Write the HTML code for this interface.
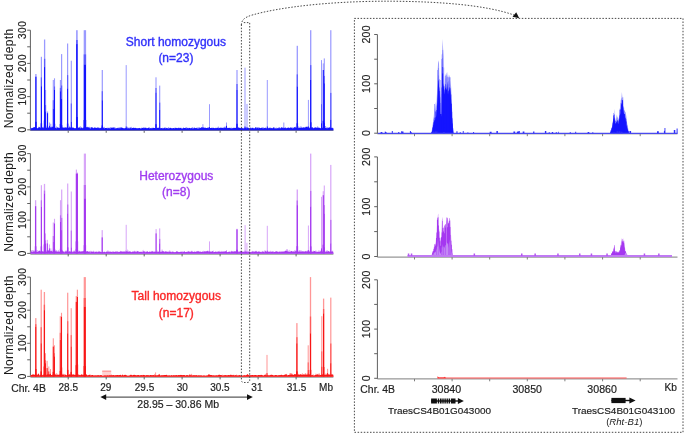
<!DOCTYPE html>
<html lang="en"><head><meta charset="utf-8"><title>Normalized depth</title>
<style>html,body{margin:0;padding:0;background:#fff}body{width:685px;height:434px;overflow:hidden}svg{display:block;will-change:transform}text{font-family:'Liberation Sans', sans-serif}</style>
</head><body>
<svg width="685" height="434" viewBox="0 0 685 434">
<rect width="685" height="434" fill="#fff"/>
<g stroke="#606060" stroke-width="1" fill="none">
<path d="M30.4 30.2 V130.4"/>
<path d="M27.2 129.8 H30.4"/>
<path d="M27.2 113.2 H30.4"/>
<path d="M27.2 96.6 H30.4"/>
<path d="M27.2 80.0 H30.4"/>
<path d="M27.2 63.4 H30.4"/>
<path d="M27.2 46.8 H30.4"/>
<path d="M27.2 30.2 H30.4"/>
<path d="M30.4 130.4 H333.4"/>
<path d="M68.2 130.4 V132.8"/>
<path d="M106.2 130.4 V132.8"/>
<path d="M144.2 130.4 V132.8"/>
<path d="M182.1 130.4 V132.8"/>
<path d="M220.1 130.4 V132.8"/>
<path d="M258.1 130.4 V132.8"/>
<path d="M296.1 130.4 V132.8"/>
</g>
<text transform="translate(25.5 129.5) rotate(-90)" text-anchor="middle" font-size="10" letter-spacing="0.5" fill="#222" stroke="#222" stroke-width="0.18">0</text>
<text transform="translate(25.5 96.3) rotate(-90)" text-anchor="middle" font-size="10" letter-spacing="0.5" fill="#222" stroke="#222" stroke-width="0.18">100</text>
<text transform="translate(25.5 63.1) rotate(-90)" text-anchor="middle" font-size="10" letter-spacing="0.5" fill="#222" stroke="#222" stroke-width="0.18">200</text>
<text transform="translate(25.5 29.9) rotate(-90)" text-anchor="middle" font-size="10" letter-spacing="0.5" fill="#222" stroke="#222" stroke-width="0.18">300</text>
<text transform="translate(12.6 78.4) rotate(-90)" text-anchor="middle" font-size="12" letter-spacing="0.36" fill="#161616">Normalized depth</text>
<g fill="#9a9aff">
<rect x="35.25" y="74.0" width="1.30" height="55.8"/>
<rect x="40.80" y="56.8" width="1.20" height="73.0"/>
<rect x="43.95" y="39.5" width="1.30" height="90.3"/>
<rect x="45.10" y="90.0" width="1.00" height="39.8"/>
<rect x="46.90" y="111.5" width="1.20" height="18.3"/>
<rect x="49.10" y="122.5" width="1.00" height="7.3"/>
<rect x="50.30" y="123.8" width="1.00" height="6.0"/>
<rect x="52.75" y="80.0" width="1.10" height="49.8"/>
<rect x="53.95" y="78.3" width="1.10" height="51.5"/>
<rect x="59.85" y="80.0" width="1.10" height="49.8"/>
<rect x="61.00" y="54.1" width="1.20" height="75.7"/>
<rect x="67.00" y="43.5" width="1.20" height="86.3"/>
<rect x="70.75" y="60.7" width="1.10" height="69.1"/>
<rect x="76.10" y="30.2" width="1.60" height="99.6"/>
<rect x="83.70" y="30.2" width="2.40" height="99.6"/>
<rect x="101.70" y="70.0" width="1.20" height="59.8"/>
<rect x="125.70" y="65.1" width="1.00" height="64.7"/>
<rect x="155.45" y="77.3" width="1.10" height="52.5"/>
<rect x="159.15" y="85.6" width="1.10" height="44.2"/>
<rect x="202.40" y="124.2" width="1.00" height="5.6"/>
<rect x="209.00" y="104.2" width="1.00" height="25.6"/>
<rect x="226.00" y="122.5" width="1.00" height="7.3"/>
<rect x="236.40" y="70.0" width="1.20" height="59.8"/>
<rect x="244.50" y="67.7" width="1.00" height="62.1"/>
<rect x="246.50" y="103.9" width="1.00" height="25.9"/>
<rect x="266.80" y="80.0" width="1.00" height="49.8"/>
<rect x="283.30" y="122.5" width="1.00" height="7.3"/>
<rect x="296.65" y="45.8" width="1.30" height="84.0"/>
<rect x="307.90" y="99.9" width="1.00" height="29.9"/>
<rect x="310.05" y="30.2" width="1.30" height="99.6"/>
<rect x="321.00" y="60.1" width="1.00" height="69.7"/>
<rect x="322.75" y="63.4" width="1.10" height="66.4"/>
<rect x="323.75" y="58.4" width="1.10" height="71.4"/>
<rect x="330.20" y="30.2" width="1.20" height="99.6"/>
</g>
<path fill="#9a9aff" d="M30.6 130.2 L30.6 127.3 L31.5 128.1 L32.4 128.7 L33.3 128.0 L34.2 127.9 L35.1 127.0 L36.0 126.4 L36.9 128.3 L37.8 128.1 L38.7 126.6 L39.6 127.0 L40.5 127.2 L41.4 127.2 L42.3 126.9 L43.2 126.8 L44.1 126.9 L45.0 128.2 L45.9 127.9 L46.8 125.3 L47.7 127.4 L48.6 126.8 L49.5 126.7 L50.4 128.0 L51.3 126.2 L52.2 126.9 L53.1 126.4 L54.0 126.6 L54.9 127.1 L55.8 127.8 L56.7 126.1 L57.6 127.8 L58.5 127.2 L59.4 128.2 L60.3 127.6 L61.2 128.2 L62.1 126.9 L63.0 127.0 L63.9 127.5 L64.8 126.8 L65.7 127.2 L66.6 128.4 L67.5 128.5 L68.4 128.6 L69.3 125.2 L70.2 128.0 L71.1 126.9 L72.0 126.5 L72.9 128.1 L73.8 128.1 L74.7 128.0 L75.6 128.5 L76.5 126.7 L77.4 127.1 L78.3 127.7 L79.2 127.2 L80.1 126.2 L81.0 126.4 L81.9 127.9 L82.8 127.7 L83.7 127.0 L84.6 125.9 L85.5 127.9 L86.4 127.5 L87.3 126.6 L88.2 127.6 L89.1 126.6 L90.0 127.5 L90.9 127.1 L91.8 127.0 L92.7 127.2 L93.6 128.1 L94.5 127.1 L95.4 127.1 L96.3 127.9 L97.2 127.0 L98.1 126.9 L99.0 127.4 L99.9 128.0 L100.8 128.3 L101.7 127.1 L102.6 127.7 L103.5 127.1 L104.4 126.8 L105.3 128.7 L106.2 127.8 L107.1 128.0 L108.0 127.3 L108.9 128.0 L109.8 127.6 L110.7 127.0 L111.6 127.6 L112.5 127.8 L113.4 126.9 L114.3 127.0 L115.2 127.2 L116.1 128.6 L117.0 128.1 L117.9 127.5 L118.8 127.6 L119.7 127.3 L120.6 127.0 L121.5 127.1 L122.4 127.9 L123.3 128.1 L124.2 128.5 L125.1 128.5 L126.0 127.5 L126.9 127.5 L127.8 126.4 L128.7 128.1 L129.6 127.4 L130.5 127.0 L131.4 126.8 L132.3 128.4 L133.2 127.1 L134.1 128.5 L135.0 127.8 L135.9 128.1 L136.8 128.3 L137.7 128.6 L138.6 128.2 L139.5 127.8 L140.4 128.8 L141.3 127.5 L142.2 128.0 L143.1 127.2 L144.0 127.2 L144.9 127.5 L145.8 127.2 L146.7 128.1 L147.6 128.2 L148.5 128.3 L149.4 127.1 L150.3 128.2 L151.2 127.8 L152.1 127.9 L153.0 127.4 L153.9 128.3 L154.8 127.9 L155.7 128.5 L156.6 128.2 L157.5 127.9 L158.4 127.5 L159.3 127.3 L160.2 127.7 L161.1 128.2 L162.0 128.3 L162.9 127.4 L163.8 128.3 L164.7 127.1 L165.6 127.5 L166.5 127.7 L167.4 128.5 L168.3 127.1 L169.2 127.6 L170.1 128.4 L171.0 127.7 L171.9 128.6 L172.8 128.3 L173.7 128.0 L174.6 127.8 L175.5 127.4 L176.4 127.7 L177.3 128.2 L178.2 127.6 L179.1 127.4 L180.0 128.1 L180.9 127.6 L181.8 128.0 L182.7 128.4 L183.6 127.1 L184.5 128.4 L185.4 127.6 L186.3 126.9 L187.2 127.6 L188.1 128.2 L189.0 127.4 L189.9 128.1 L190.8 128.3 L191.7 127.5 L192.6 126.9 L193.5 128.1 L194.4 127.0 L195.3 128.1 L196.2 128.5 L197.1 127.2 L198.0 127.8 L198.9 126.9 L199.8 127.3 L200.7 127.9 L201.6 127.3 L202.5 127.7 L203.4 127.1 L204.3 127.9 L205.2 126.9 L206.1 128.1 L207.0 128.4 L207.9 127.2 L208.8 127.1 L209.7 128.5 L210.6 128.1 L211.5 127.9 L212.4 127.4 L213.3 127.8 L214.2 128.2 L215.1 128.3 L216.0 127.3 L216.9 128.2 L217.8 126.8 L218.7 126.6 L219.6 128.0 L220.5 127.8 L221.4 127.3 L222.3 128.4 L223.2 127.3 L224.1 127.5 L225.0 125.9 L225.9 127.2 L226.8 128.3 L227.7 127.6 L228.6 127.8 L229.5 128.4 L230.4 127.8 L231.3 127.5 L232.2 127.9 L233.1 127.7 L234.0 127.8 L234.9 127.9 L235.8 127.4 L236.7 127.3 L237.6 127.5 L238.5 126.8 L239.4 128.1 L240.3 128.1 L241.2 128.3 L242.1 127.7 L243.0 127.7 L243.9 128.2 L244.8 127.0 L245.7 127.0 L246.6 128.1 L247.5 128.6 L248.4 128.1 L249.3 128.6 L250.2 126.8 L251.1 128.1 L252.0 127.5 L252.9 127.6 L253.8 128.0 L254.7 128.3 L255.6 127.5 L256.5 127.0 L257.4 127.2 L258.3 127.1 L259.2 127.5 L260.1 128.3 L261.0 127.8 L261.9 127.9 L262.8 127.1 L263.7 127.6 L264.6 128.1 L265.5 127.2 L266.4 128.1 L267.3 127.4 L268.2 127.6 L269.1 128.6 L270.0 126.7 L270.9 128.3 L271.8 127.8 L272.7 128.1 L273.6 127.3 L274.5 127.3 L275.4 128.1 L276.3 127.5 L277.2 128.0 L278.1 127.7 L279.0 127.1 L279.9 127.0 L280.8 128.2 L281.7 127.4 L282.6 128.2 L283.5 126.8 L284.4 128.0 L285.3 127.0 L286.2 127.7 L287.1 128.2 L288.0 127.6 L288.9 127.7 L289.8 128.0 L290.7 127.1 L291.6 127.8 L292.5 127.2 L293.4 127.6 L294.3 127.7 L295.2 126.4 L296.1 126.9 L297.0 126.9 L297.9 127.6 L298.8 126.1 L299.7 127.5 L300.6 126.3 L301.5 126.4 L302.4 128.0 L303.3 127.0 L304.2 127.4 L305.1 127.1 L306.0 126.6 L306.9 128.1 L307.8 126.1 L308.7 128.2 L309.6 126.9 L310.5 127.9 L311.4 127.8 L312.3 127.1 L313.2 127.6 L314.1 128.6 L315.0 126.9 L315.9 127.4 L316.8 127.4 L317.7 125.9 L318.6 127.3 L319.5 127.4 L320.4 128.0 L321.3 127.9 L322.2 128.6 L323.1 126.9 L324.0 128.1 L324.9 126.0 L325.8 126.0 L326.7 127.8 L327.6 127.0 L328.5 127.4 L329.4 128.0 L330.3 126.1 L331.2 127.2 L332.1 127.7 L333.0 127.6 L333.4 128.8 L333.4 130.2Z"/>
<g fill="#5c5cff">
<rect x="40.80" y="77.4" width="1.20" height="8.9"/>
<rect x="43.95" y="58.8" width="1.30" height="8.3"/>
<rect x="45.10" y="105.1" width="1.00" height="6.5"/>
<rect x="52.75" y="100.2" width="1.10" height="8.7"/>
<rect x="53.95" y="86.5" width="1.10" height="3.5"/>
<rect x="59.85" y="87.9" width="1.10" height="3.4"/>
<rect x="61.00" y="85.5" width="1.20" height="13.4"/>
<rect x="67.00" y="75.1" width="1.20" height="13.5"/>
<rect x="70.75" y="103.5" width="1.10" height="18.3"/>
<rect x="76.10" y="40.0" width="1.60" height="4.2"/>
<rect x="83.70" y="54.4" width="2.40" height="10.4"/>
<rect x="101.70" y="91.2" width="1.20" height="9.1"/>
<rect x="155.45" y="88.0" width="1.10" height="4.6"/>
<rect x="159.15" y="102.6" width="1.10" height="7.3"/>
<rect x="236.40" y="84.0" width="1.20" height="6.0"/>
<rect x="296.65" y="74.4" width="1.30" height="12.3"/>
<rect x="310.05" y="65.1" width="1.30" height="14.9"/>
<rect x="321.00" y="104.2" width="1.00" height="18.9"/>
<rect x="323.75" y="75.9" width="1.10" height="7.5"/>
<rect x="330.20" y="92.9" width="1.20" height="26.9"/>
</g>
<g fill="#1414ff">
<rect x="35.28" y="76.7" width="1.23" height="53.1"/>
<rect x="35.13" y="121.8" width="1.53" height="8.0"/>
<rect x="40.83" y="86.3" width="1.14" height="43.5"/>
<rect x="40.68" y="123.3" width="1.44" height="6.5"/>
<rect x="43.98" y="67.1" width="1.23" height="62.7"/>
<rect x="43.83" y="120.4" width="1.53" height="9.4"/>
<rect x="45.12" y="111.5" width="0.95" height="18.3"/>
<rect x="46.93" y="113.2" width="1.14" height="16.6"/>
<rect x="49.12" y="125.8" width="0.95" height="4.0"/>
<rect x="50.32" y="127.1" width="0.95" height="2.7"/>
<rect x="52.78" y="108.9" width="1.04" height="20.9"/>
<rect x="52.63" y="126.7" width="1.34" height="3.1"/>
<rect x="53.98" y="90.0" width="1.04" height="39.8"/>
<rect x="53.83" y="123.8" width="1.34" height="6.0"/>
<rect x="59.88" y="91.3" width="1.04" height="38.5"/>
<rect x="59.73" y="124.0" width="1.34" height="5.8"/>
<rect x="61.03" y="98.9" width="1.14" height="30.9"/>
<rect x="60.88" y="125.2" width="1.44" height="4.6"/>
<rect x="67.03" y="88.6" width="1.14" height="41.2"/>
<rect x="66.88" y="123.6" width="1.44" height="6.2"/>
<rect x="70.78" y="121.8" width="1.04" height="8.0"/>
<rect x="76.14" y="44.1" width="1.52" height="85.7"/>
<rect x="75.99" y="117.0" width="1.82" height="12.8"/>
<rect x="83.76" y="64.7" width="2.28" height="65.1"/>
<rect x="83.61" y="120.0" width="2.58" height="9.8"/>
<rect x="101.73" y="100.3" width="1.14" height="29.5"/>
<rect x="101.58" y="125.4" width="1.44" height="4.4"/>
<rect x="125.73" y="126.5" width="0.95" height="3.3"/>
<rect x="155.48" y="92.6" width="1.04" height="37.2"/>
<rect x="155.33" y="124.2" width="1.34" height="5.6"/>
<rect x="159.18" y="109.9" width="1.04" height="19.9"/>
<rect x="202.43" y="127.1" width="0.95" height="2.7"/>
<rect x="209.03" y="127.1" width="0.95" height="2.7"/>
<rect x="226.03" y="125.8" width="0.95" height="4.0"/>
<rect x="236.43" y="90.0" width="1.14" height="39.8"/>
<rect x="236.28" y="123.8" width="1.44" height="6.0"/>
<rect x="244.53" y="126.5" width="0.95" height="3.3"/>
<rect x="246.53" y="127.1" width="0.95" height="2.7"/>
<rect x="266.82" y="126.5" width="0.95" height="3.3"/>
<rect x="283.32" y="127.8" width="0.95" height="2.0"/>
<rect x="296.68" y="86.6" width="1.23" height="43.2"/>
<rect x="296.53" y="123.3" width="1.53" height="6.5"/>
<rect x="307.92" y="126.5" width="0.95" height="3.3"/>
<rect x="310.08" y="80.0" width="1.23" height="49.8"/>
<rect x="309.93" y="122.3" width="1.53" height="7.5"/>
<rect x="321.02" y="123.2" width="0.95" height="6.6"/>
<rect x="322.78" y="70.0" width="1.04" height="59.8"/>
<rect x="322.63" y="120.8" width="1.34" height="9.0"/>
<rect x="323.78" y="83.3" width="1.04" height="46.5"/>
<rect x="323.63" y="122.8" width="1.34" height="7.0"/>
<rect x="330.23" y="119.8" width="1.14" height="10.0"/>
</g>
<path fill="#1414ff" d="M30.6 130.2 L30.6 127.1 L31.5 128.5 L32.4 127.9 L33.3 127.5 L34.2 127.1 L35.1 127.5 L36.0 128.0 L36.9 128.0 L37.8 128.5 L38.7 127.5 L39.6 127.3 L40.5 128.3 L41.4 127.7 L42.3 127.7 L43.2 127.8 L44.1 128.4 L45.0 128.0 L45.9 128.0 L46.8 127.7 L47.7 127.9 L48.6 127.8 L49.5 128.2 L50.4 128.0 L51.3 127.7 L52.2 126.8 L53.1 127.4 L54.0 128.1 L54.9 128.1 L55.8 128.0 L56.7 128.4 L57.6 127.3 L58.5 128.1 L59.4 127.9 L60.3 128.3 L61.2 128.1 L62.1 127.5 L63.0 128.1 L63.9 127.8 L64.8 127.9 L65.7 127.4 L66.6 127.4 L67.5 128.1 L68.4 128.0 L69.3 127.3 L70.2 127.7 L71.1 127.3 L72.0 128.0 L72.9 127.4 L73.8 127.7 L74.7 128.4 L75.6 128.2 L76.5 128.0 L77.4 127.5 L78.3 127.9 L79.2 127.2 L80.1 128.5 L81.0 128.0 L81.9 127.6 L82.8 128.4 L83.7 127.8 L84.6 127.7 L85.5 127.8 L86.4 127.2 L87.3 127.2 L88.2 127.4 L89.1 127.5 L90.0 128.6 L90.9 128.5 L91.8 127.1 L92.7 127.9 L93.6 128.3 L94.5 127.8 L95.4 128.0 L96.3 128.0 L97.2 127.9 L98.1 128.3 L99.0 127.7 L99.9 128.6 L100.8 127.8 L101.7 127.8 L102.6 128.1 L103.5 128.1 L104.4 128.4 L105.3 127.9 L106.2 128.0 L107.1 128.2 L108.0 128.4 L108.9 127.9 L109.8 128.4 L110.7 128.5 L111.6 127.8 L112.5 127.8 L113.4 127.7 L114.3 128.2 L115.2 128.5 L116.1 128.5 L117.0 127.9 L117.9 128.2 L118.8 128.2 L119.7 128.2 L120.6 128.2 L121.5 127.8 L122.4 127.8 L123.3 128.2 L124.2 128.5 L125.1 128.0 L126.0 128.2 L126.9 128.1 L127.8 128.4 L128.7 128.2 L129.6 128.6 L130.5 127.9 L131.4 128.5 L132.3 127.9 L133.2 127.9 L134.1 127.7 L135.0 128.3 L135.9 127.8 L136.8 128.5 L137.7 128.2 L138.6 128.3 L139.5 127.9 L140.4 128.4 L141.3 128.4 L142.2 127.9 L143.1 128.0 L144.0 128.2 L144.9 127.9 L145.8 128.0 L146.7 128.3 L147.6 128.3 L148.5 127.5 L149.4 128.4 L150.3 128.2 L151.2 128.2 L152.1 128.5 L153.0 127.8 L153.9 127.9 L154.8 128.1 L155.7 128.4 L156.6 128.2 L157.5 127.8 L158.4 128.0 L159.3 127.7 L160.2 128.4 L161.1 127.9 L162.0 128.2 L162.9 128.6 L163.8 128.2 L164.7 128.1 L165.6 128.6 L166.5 128.0 L167.4 128.2 L168.3 128.5 L169.2 128.5 L170.1 127.7 L171.0 128.1 L171.9 128.5 L172.8 128.3 L173.7 128.1 L174.6 128.4 L175.5 128.1 L176.4 127.9 L177.3 128.3 L178.2 128.0 L179.1 128.3 L180.0 128.1 L180.9 127.9 L181.8 128.7 L182.7 128.4 L183.6 127.9 L184.5 128.0 L185.4 127.9 L186.3 128.4 L187.2 128.0 L188.1 128.5 L189.0 127.9 L189.9 127.9 L190.8 128.4 L191.7 128.1 L192.6 128.6 L193.5 128.5 L194.4 127.9 L195.3 128.2 L196.2 127.7 L197.1 128.6 L198.0 128.4 L198.9 128.6 L199.8 127.9 L200.7 127.9 L201.6 127.3 L202.5 127.9 L203.4 128.0 L204.3 127.7 L205.2 127.9 L206.1 127.9 L207.0 127.9 L207.9 127.7 L208.8 128.3 L209.7 127.9 L210.6 128.1 L211.5 127.8 L212.4 128.2 L213.3 127.7 L214.2 128.2 L215.1 127.9 L216.0 128.2 L216.9 127.9 L217.8 128.0 L218.7 128.3 L219.6 128.0 L220.5 127.8 L221.4 128.0 L222.3 127.8 L223.2 128.3 L224.1 127.8 L225.0 127.7 L225.9 128.0 L226.8 128.3 L227.7 128.1 L228.6 127.9 L229.5 127.8 L230.4 128.2 L231.3 128.4 L232.2 128.3 L233.1 128.2 L234.0 127.8 L234.9 128.1 L235.8 128.1 L236.7 127.2 L237.6 128.2 L238.5 127.8 L239.4 127.8 L240.3 128.2 L241.2 127.7 L242.1 128.1 L243.0 128.6 L243.9 128.5 L244.8 128.0 L245.7 128.0 L246.6 128.4 L247.5 128.1 L248.4 127.7 L249.3 128.5 L250.2 128.1 L251.1 128.4 L252.0 128.0 L252.9 128.0 L253.8 128.4 L254.7 128.5 L255.6 127.1 L256.5 128.6 L257.4 127.7 L258.3 128.6 L259.2 127.7 L260.1 128.1 L261.0 128.2 L261.9 127.4 L262.8 128.5 L263.7 128.3 L264.6 127.9 L265.5 128.1 L266.4 128.6 L267.3 127.9 L268.2 128.2 L269.1 128.3 L270.0 127.8 L270.9 128.4 L271.8 127.9 L272.7 128.6 L273.6 127.3 L274.5 128.4 L275.4 128.5 L276.3 128.4 L277.2 128.5 L278.1 128.1 L279.0 128.4 L279.9 127.9 L280.8 128.6 L281.7 126.9 L282.6 127.8 L283.5 128.6 L284.4 127.9 L285.3 127.8 L286.2 128.4 L287.1 127.8 L288.0 127.9 L288.9 127.4 L289.8 128.3 L290.7 127.5 L291.6 127.8 L292.5 128.5 L293.4 128.3 L294.3 127.3 L295.2 127.3 L296.1 128.1 L297.0 127.9 L297.9 128.2 L298.8 128.1 L299.7 127.9 L300.6 128.0 L301.5 127.8 L302.4 127.7 L303.3 127.5 L304.2 127.8 L305.1 127.6 L306.0 127.3 L306.9 126.5 L307.8 127.5 L308.7 127.7 L309.6 128.2 L310.5 127.9 L311.4 127.5 L312.3 127.3 L313.2 128.5 L314.1 127.7 L315.0 127.7 L315.9 127.5 L316.8 127.9 L317.7 127.8 L318.6 127.9 L319.5 128.1 L320.4 128.3 L321.3 128.4 L322.2 127.7 L323.1 128.0 L324.0 127.6 L324.9 127.9 L325.8 128.1 L326.7 128.3 L327.6 128.2 L328.5 128.0 L329.4 127.2 L330.3 127.9 L331.2 128.0 L332.1 128.2 L333.0 127.9 L333.4 128.7 L333.4 130.2Z"/>
<g stroke="#606060" stroke-width="1" fill="none">
<path d="M30.4 153.6 V254.0"/>
<path d="M27.2 253.4 H30.4"/>
<path d="M27.2 236.8 H30.4"/>
<path d="M27.2 220.1 H30.4"/>
<path d="M27.2 203.5 H30.4"/>
<path d="M27.2 186.9 H30.4"/>
<path d="M27.2 170.2 H30.4"/>
<path d="M27.2 153.6 H30.4"/>
<path d="M30.4 254.0 H333.4"/>
<path d="M68.2 254.0 V256.4"/>
<path d="M106.2 254.0 V256.4"/>
<path d="M144.2 254.0 V256.4"/>
<path d="M182.1 254.0 V256.4"/>
<path d="M220.1 254.0 V256.4"/>
<path d="M258.1 254.0 V256.4"/>
<path d="M296.1 254.0 V256.4"/>
</g>
<text transform="translate(25.5 253.1) rotate(-90)" text-anchor="middle" font-size="10" letter-spacing="0.5" fill="#222" stroke="#222" stroke-width="0.18">0</text>
<text transform="translate(25.5 219.8) rotate(-90)" text-anchor="middle" font-size="10" letter-spacing="0.5" fill="#222" stroke="#222" stroke-width="0.18">100</text>
<text transform="translate(25.5 186.6) rotate(-90)" text-anchor="middle" font-size="10" letter-spacing="0.5" fill="#222" stroke="#222" stroke-width="0.18">200</text>
<text transform="translate(25.5 153.3) rotate(-90)" text-anchor="middle" font-size="10" letter-spacing="0.5" fill="#222" stroke="#222" stroke-width="0.18">300</text>
<text transform="translate(12.6 201.9) rotate(-90)" text-anchor="middle" font-size="12" letter-spacing="0.36" fill="#161616">Normalized depth</text>
<g fill="#d8a6f8">
<rect x="34.95" y="200.2" width="1.30" height="53.2"/>
<rect x="40.80" y="185.2" width="1.20" height="68.2"/>
<rect x="43.85" y="183.9" width="1.30" height="69.5"/>
<rect x="45.00" y="233.4" width="1.00" height="20.0"/>
<rect x="46.75" y="239.8" width="1.10" height="13.6"/>
<rect x="48.90" y="244.4" width="1.00" height="9.0"/>
<rect x="50.30" y="248.4" width="1.00" height="5.0"/>
<rect x="52.75" y="222.5" width="1.10" height="30.9"/>
<rect x="53.95" y="218.8" width="1.10" height="34.6"/>
<rect x="59.95" y="200.2" width="1.10" height="53.2"/>
<rect x="61.10" y="189.5" width="1.20" height="63.9"/>
<rect x="67.10" y="183.5" width="1.20" height="69.9"/>
<rect x="70.75" y="191.5" width="1.10" height="61.9"/>
<rect x="75.80" y="169.6" width="1.20" height="83.8"/>
<rect x="76.80" y="172.6" width="1.20" height="80.8"/>
<rect x="83.80" y="153.6" width="2.20" height="99.8"/>
<rect x="101.60" y="230.1" width="1.20" height="23.3"/>
<rect x="125.70" y="224.8" width="1.00" height="28.6"/>
<rect x="155.55" y="229.1" width="1.10" height="24.3"/>
<rect x="159.15" y="228.4" width="1.10" height="25.0"/>
<rect x="209.00" y="241.4" width="1.00" height="12.0"/>
<rect x="226.00" y="250.1" width="1.00" height="3.3"/>
<rect x="236.35" y="228.8" width="1.30" height="24.6"/>
<rect x="244.60" y="225.1" width="1.00" height="28.3"/>
<rect x="246.40" y="242.8" width="1.00" height="10.6"/>
<rect x="266.80" y="225.8" width="1.00" height="27.6"/>
<rect x="296.60" y="189.5" width="1.40" height="63.9"/>
<rect x="307.90" y="225.5" width="1.00" height="27.9"/>
<rect x="310.05" y="153.6" width="1.30" height="99.8"/>
<rect x="321.00" y="196.8" width="1.00" height="56.6"/>
<rect x="322.70" y="191.2" width="1.20" height="62.2"/>
<rect x="323.75" y="185.5" width="1.10" height="67.9"/>
<rect x="330.20" y="164.9" width="1.20" height="88.5"/>
</g>
<path fill="#d8a6f8" d="M30.6 253.8 L30.6 251.6 L31.5 250.0 L32.4 250.0 L33.3 250.5 L34.2 249.8 L35.1 252.2 L36.0 250.4 L36.9 250.2 L37.8 250.2 L38.7 251.1 L39.6 250.7 L40.5 251.0 L41.4 250.4 L42.3 251.2 L43.2 251.3 L44.1 251.8 L45.0 249.6 L45.9 250.7 L46.8 250.3 L47.7 250.1 L48.6 250.0 L49.5 250.8 L50.4 250.0 L51.3 251.2 L52.2 251.0 L53.1 250.0 L54.0 250.7 L54.9 250.0 L55.8 250.6 L56.7 250.1 L57.6 251.2 L58.5 249.8 L59.4 251.3 L60.3 251.3 L61.2 251.2 L62.1 250.9 L63.0 251.2 L63.9 251.9 L64.8 251.0 L65.7 250.6 L66.6 250.5 L67.5 250.7 L68.4 251.5 L69.3 251.0 L70.2 250.9 L71.1 251.3 L72.0 251.9 L72.9 251.0 L73.8 250.6 L74.7 250.8 L75.6 248.8 L76.5 249.9 L77.4 248.5 L78.3 250.7 L79.2 250.5 L80.1 251.2 L81.0 251.4 L81.9 251.2 L82.8 250.9 L83.7 250.4 L84.6 251.8 L85.5 250.9 L86.4 251.1 L87.3 251.6 L88.2 251.9 L89.1 251.1 L90.0 251.1 L90.9 250.8 L91.8 251.0 L92.7 251.6 L93.6 250.4 L94.5 251.4 L95.4 252.1 L96.3 250.8 L97.2 251.9 L98.1 250.7 L99.0 251.1 L99.9 251.5 L100.8 251.9 L101.7 252.0 L102.6 251.1 L103.5 251.7 L104.4 252.2 L105.3 252.1 L106.2 251.4 L107.1 250.9 L108.0 250.0 L108.9 251.5 L109.8 250.9 L110.7 251.7 L111.6 251.8 L112.5 251.1 L113.4 251.9 L114.3 252.0 L115.2 251.8 L116.1 251.0 L117.0 251.3 L117.9 250.9 L118.8 252.0 L119.7 252.3 L120.6 250.7 L121.5 250.9 L122.4 251.4 L123.3 251.5 L124.2 251.4 L125.1 250.9 L126.0 249.8 L126.9 251.5 L127.8 249.1 L128.7 251.5 L129.6 251.3 L130.5 252.1 L131.4 252.0 L132.3 251.1 L133.2 251.8 L134.1 250.8 L135.0 250.7 L135.9 251.6 L136.8 250.8 L137.7 251.1 L138.6 250.9 L139.5 251.8 L140.4 251.6 L141.3 251.5 L142.2 251.6 L143.1 249.5 L144.0 251.8 L144.9 251.3 L145.8 251.4 L146.7 252.1 L147.6 251.1 L148.5 251.9 L149.4 251.9 L150.3 251.6 L151.2 251.0 L152.1 250.8 L153.0 251.5 L153.9 251.6 L154.8 251.7 L155.7 252.0 L156.6 250.6 L157.5 250.6 L158.4 251.9 L159.3 252.2 L160.2 251.6 L161.1 252.2 L162.0 248.8 L162.9 251.0 L163.8 251.1 L164.7 251.5 L165.6 251.0 L166.5 251.6 L167.4 251.8 L168.3 251.4 L169.2 250.5 L170.1 250.5 L171.0 252.0 L171.9 251.4 L172.8 251.5 L173.7 251.8 L174.6 251.9 L175.5 252.1 L176.4 251.2 L177.3 251.4 L178.2 251.8 L179.1 252.1 L180.0 252.1 L180.9 251.5 L181.8 251.2 L182.7 251.3 L183.6 251.9 L184.5 251.1 L185.4 251.9 L186.3 252.0 L187.2 251.8 L188.1 250.8 L189.0 252.1 L189.9 252.3 L190.8 251.7 L191.7 250.5 L192.6 251.1 L193.5 252.0 L194.4 250.8 L195.3 251.8 L196.2 250.9 L197.1 251.2 L198.0 250.7 L198.9 251.2 L199.8 251.4 L200.7 251.6 L201.6 252.0 L202.5 251.2 L203.4 250.7 L204.3 251.1 L205.2 251.6 L206.1 251.0 L207.0 251.8 L207.9 251.7 L208.8 250.6 L209.7 251.3 L210.6 251.8 L211.5 252.1 L212.4 251.5 L213.3 250.3 L214.2 251.9 L215.1 252.0 L216.0 251.7 L216.9 251.7 L217.8 250.9 L218.7 251.1 L219.6 250.8 L220.5 251.4 L221.4 250.7 L222.3 251.5 L223.2 251.4 L224.1 251.5 L225.0 251.4 L225.9 251.5 L226.8 252.0 L227.7 252.2 L228.6 251.5 L229.5 252.0 L230.4 251.6 L231.3 250.4 L232.2 251.4 L233.1 251.3 L234.0 250.7 L234.9 251.8 L235.8 251.9 L236.7 251.8 L237.6 252.0 L238.5 251.1 L239.4 251.6 L240.3 251.0 L241.2 250.9 L242.1 251.7 L243.0 251.3 L243.9 251.6 L244.8 251.6 L245.7 252.3 L246.6 251.2 L247.5 251.2 L248.4 252.1 L249.3 249.0 L250.2 251.8 L251.1 252.1 L252.0 250.8 L252.9 251.1 L253.8 251.1 L254.7 251.6 L255.6 250.8 L256.5 250.7 L257.4 251.5 L258.3 252.1 L259.2 250.7 L260.1 252.0 L261.0 252.3 L261.9 251.5 L262.8 250.8 L263.7 251.7 L264.6 250.2 L265.5 250.5 L266.4 251.6 L267.3 251.8 L268.2 250.9 L269.1 251.7 L270.0 251.0 L270.9 250.8 L271.8 251.8 L272.7 251.7 L273.6 250.9 L274.5 252.0 L275.4 250.9 L276.3 251.1 L277.2 251.4 L278.1 251.8 L279.0 251.2 L279.9 251.9 L280.8 251.1 L281.7 250.9 L282.6 251.9 L283.5 252.3 L284.4 251.1 L285.3 250.8 L286.2 249.6 L287.1 249.1 L288.0 249.7 L288.9 251.7 L289.8 249.5 L290.7 252.0 L291.6 250.7 L292.5 251.4 L293.4 251.5 L294.3 250.6 L295.2 249.8 L296.1 251.6 L297.0 250.5 L297.9 251.5 L298.8 250.5 L299.7 250.0 L300.6 250.4 L301.5 250.4 L302.4 251.2 L303.3 252.2 L304.2 251.0 L305.1 251.1 L306.0 250.8 L306.9 251.1 L307.8 250.3 L308.7 250.1 L309.6 251.1 L310.5 250.1 L311.4 250.9 L312.3 251.2 L313.2 250.5 L314.1 251.1 L315.0 251.6 L315.9 249.9 L316.8 251.2 L317.7 251.4 L318.6 250.3 L319.5 250.8 L320.4 250.4 L321.3 250.9 L322.2 250.6 L323.1 251.8 L324.0 251.0 L324.9 251.4 L325.8 250.7 L326.7 250.5 L327.6 250.2 L328.5 251.5 L329.4 251.2 L330.3 251.5 L331.2 251.2 L332.1 251.6 L333.0 250.1 L333.4 252.4 L333.4 253.8Z"/>
<g fill="#bc6cf3">
<rect x="40.80" y="200.3" width="1.20" height="6.5"/>
<rect x="43.85" y="190.6" width="1.30" height="2.9"/>
<rect x="45.00" y="240.4" width="1.00" height="3.0"/>
<rect x="52.75" y="236.0" width="1.10" height="5.8"/>
<rect x="59.95" y="215.3" width="1.10" height="6.5"/>
<rect x="61.10" y="217.9" width="1.20" height="12.2"/>
<rect x="67.10" y="204.5" width="1.20" height="9.0"/>
<rect x="70.75" y="230.6" width="1.10" height="16.8"/>
<rect x="83.80" y="185.0" width="2.20" height="13.5"/>
<rect x="159.15" y="238.9" width="1.10" height="4.5"/>
<rect x="296.60" y="200.5" width="1.40" height="4.7"/>
<rect x="310.05" y="190.9" width="1.30" height="16.0"/>
<rect x="323.75" y="205.1" width="1.10" height="8.4"/>
<rect x="330.20" y="219.9" width="1.20" height="23.6"/>
</g>
<g fill="#a538f0">
<rect x="34.98" y="206.2" width="1.23" height="47.2"/>
<rect x="34.83" y="246.3" width="1.53" height="7.1"/>
<rect x="40.83" y="206.8" width="1.14" height="46.6"/>
<rect x="40.68" y="246.4" width="1.44" height="7.0"/>
<rect x="43.88" y="193.5" width="1.23" height="59.9"/>
<rect x="43.73" y="244.4" width="1.53" height="9.0"/>
<rect x="45.02" y="243.4" width="0.95" height="10.0"/>
<rect x="46.78" y="243.4" width="1.04" height="10.0"/>
<rect x="48.92" y="248.4" width="0.95" height="5.0"/>
<rect x="50.32" y="251.4" width="0.95" height="2.0"/>
<rect x="52.78" y="241.8" width="1.04" height="11.6"/>
<rect x="53.98" y="223.5" width="1.04" height="29.9"/>
<rect x="53.83" y="248.9" width="1.34" height="4.5"/>
<rect x="59.98" y="221.8" width="1.04" height="31.6"/>
<rect x="59.83" y="248.7" width="1.34" height="4.7"/>
<rect x="61.13" y="230.1" width="1.14" height="23.3"/>
<rect x="60.98" y="249.9" width="1.44" height="3.5"/>
<rect x="67.13" y="213.5" width="1.14" height="39.9"/>
<rect x="66.98" y="247.4" width="1.44" height="6.0"/>
<rect x="70.78" y="247.4" width="1.04" height="6.0"/>
<rect x="75.83" y="173.6" width="1.14" height="79.8"/>
<rect x="75.68" y="241.4" width="1.44" height="12.0"/>
<rect x="76.83" y="173.6" width="1.14" height="79.8"/>
<rect x="76.68" y="241.4" width="1.44" height="12.0"/>
<rect x="83.86" y="198.5" width="2.09" height="54.9"/>
<rect x="83.70" y="245.2" width="2.39" height="8.2"/>
<rect x="101.63" y="237.4" width="1.14" height="16.0"/>
<rect x="125.73" y="251.4" width="0.95" height="2.0"/>
<rect x="155.58" y="233.4" width="1.04" height="20.0"/>
<rect x="159.18" y="243.4" width="1.04" height="10.0"/>
<rect x="209.03" y="251.4" width="0.95" height="2.0"/>
<rect x="226.03" y="251.7" width="0.95" height="1.7"/>
<rect x="236.38" y="229.4" width="1.23" height="24.0"/>
<rect x="236.23" y="249.8" width="1.53" height="3.6"/>
<rect x="244.62" y="250.7" width="0.95" height="2.7"/>
<rect x="246.43" y="251.4" width="0.95" height="2.0"/>
<rect x="266.82" y="250.7" width="0.95" height="2.7"/>
<rect x="296.63" y="205.2" width="1.33" height="48.2"/>
<rect x="296.49" y="246.2" width="1.63" height="7.2"/>
<rect x="307.92" y="250.1" width="0.95" height="3.3"/>
<rect x="310.08" y="206.8" width="1.23" height="46.6"/>
<rect x="309.93" y="246.4" width="1.53" height="7.0"/>
<rect x="321.02" y="248.4" width="0.95" height="5.0"/>
<rect x="322.73" y="195.2" width="1.14" height="58.2"/>
<rect x="322.58" y="244.7" width="1.44" height="8.7"/>
<rect x="323.78" y="213.5" width="1.04" height="39.9"/>
<rect x="323.63" y="247.4" width="1.34" height="6.0"/>
<rect x="330.23" y="243.4" width="1.14" height="10.0"/>
</g>
<path fill="#a538f0" d="M30.6 253.8 L30.6 251.4 L31.5 251.5 L32.4 252.2 L33.3 251.5 L34.2 251.6 L35.1 251.4 L36.0 251.8 L36.9 251.9 L37.8 252.1 L38.7 251.3 L39.6 250.6 L40.5 251.8 L41.4 251.7 L42.3 251.4 L43.2 251.6 L44.1 252.0 L45.0 251.7 L45.9 251.6 L46.8 251.8 L47.7 250.5 L48.6 250.8 L49.5 251.3 L50.4 251.4 L51.3 250.5 L52.2 252.1 L53.1 251.3 L54.0 251.0 L54.9 251.6 L55.8 251.3 L56.7 251.6 L57.6 252.0 L58.5 251.6 L59.4 251.9 L60.3 251.8 L61.2 251.2 L62.1 251.4 L63.0 251.0 L63.9 251.9 L64.8 252.4 L65.7 251.2 L66.6 251.6 L67.5 251.7 L68.4 252.2 L69.3 251.6 L70.2 251.7 L71.1 251.9 L72.0 251.6 L72.9 252.4 L73.8 251.6 L74.7 251.5 L75.6 252.1 L76.5 251.1 L77.4 251.6 L78.3 252.0 L79.2 251.6 L80.1 251.3 L81.0 252.3 L81.9 250.9 L82.8 251.7 L83.7 251.1 L84.6 251.7 L85.5 251.9 L86.4 251.7 L87.3 251.0 L88.2 251.7 L89.1 251.7 L90.0 252.4 L90.9 252.2 L91.8 251.8 L92.7 251.9 L93.6 251.7 L94.5 252.5 L95.4 251.8 L96.3 252.0 L97.2 252.2 L98.1 252.0 L99.0 252.0 L99.9 251.6 L100.8 251.9 L101.7 252.3 L102.6 252.1 L103.5 252.3 L104.4 251.5 L105.3 252.4 L106.2 251.7 L107.1 252.3 L108.0 251.6 L108.9 252.2 L109.8 251.9 L110.7 251.8 L111.6 252.1 L112.5 252.3 L113.4 251.6 L114.3 252.1 L115.2 251.6 L116.1 252.3 L117.0 251.8 L117.9 252.3 L118.8 252.0 L119.7 251.7 L120.6 251.6 L121.5 251.8 L122.4 251.7 L123.3 251.8 L124.2 251.5 L125.1 252.2 L126.0 251.5 L126.9 251.7 L127.8 251.6 L128.7 252.1 L129.6 251.5 L130.5 251.6 L131.4 252.2 L132.3 252.1 L133.2 251.8 L134.1 251.7 L135.0 251.6 L135.9 252.3 L136.8 252.0 L137.7 251.1 L138.6 252.3 L139.5 251.9 L140.4 252.1 L141.3 251.9 L142.2 252.2 L143.1 251.9 L144.0 250.7 L144.9 252.2 L145.8 252.2 L146.7 251.6 L147.6 251.4 L148.5 252.3 L149.4 251.6 L150.3 252.0 L151.2 252.1 L152.1 251.6 L153.0 251.5 L153.9 252.3 L154.8 251.5 L155.7 251.8 L156.6 251.8 L157.5 252.2 L158.4 251.6 L159.3 251.9 L160.2 251.8 L161.1 252.0 L162.0 251.6 L162.9 251.3 L163.8 251.8 L164.7 252.2 L165.6 251.5 L166.5 251.7 L167.4 251.8 L168.3 252.2 L169.2 251.8 L170.1 252.0 L171.0 251.8 L171.9 252.4 L172.8 251.6 L173.7 252.2 L174.6 252.2 L175.5 252.2 L176.4 251.6 L177.3 251.5 L178.2 251.9 L179.1 252.3 L180.0 251.8 L180.9 252.1 L181.8 251.9 L182.7 252.3 L183.6 251.7 L184.5 251.6 L185.4 252.3 L186.3 251.7 L187.2 252.3 L188.1 251.5 L189.0 251.6 L189.9 251.8 L190.8 251.7 L191.7 251.6 L192.6 251.9 L193.5 252.1 L194.4 251.9 L195.3 251.9 L196.2 252.1 L197.1 251.6 L198.0 251.6 L198.9 251.5 L199.8 251.9 L200.7 251.7 L201.6 252.1 L202.5 251.7 L203.4 252.2 L204.3 251.6 L205.2 251.7 L206.1 251.3 L207.0 251.5 L207.9 250.6 L208.8 252.2 L209.7 252.2 L210.6 251.6 L211.5 251.8 L212.4 251.0 L213.3 252.3 L214.2 251.9 L215.1 251.8 L216.0 251.4 L216.9 252.2 L217.8 252.0 L218.7 251.8 L219.6 252.1 L220.5 252.1 L221.4 252.0 L222.3 251.8 L223.2 251.8 L224.1 251.6 L225.0 251.8 L225.9 251.0 L226.8 251.9 L227.7 252.2 L228.6 251.9 L229.5 251.6 L230.4 252.4 L231.3 251.6 L232.2 251.6 L233.1 251.7 L234.0 252.0 L234.9 250.9 L235.8 251.6 L236.7 251.7 L237.6 251.7 L238.5 252.2 L239.4 252.3 L240.3 250.8 L241.2 252.3 L242.1 251.6 L243.0 252.1 L243.9 252.0 L244.8 252.3 L245.7 251.8 L246.6 252.0 L247.5 252.4 L248.4 251.8 L249.3 251.8 L250.2 252.3 L251.1 252.2 L252.0 252.1 L252.9 251.6 L253.8 252.3 L254.7 251.7 L255.6 251.5 L256.5 251.5 L257.4 252.3 L258.3 251.6 L259.2 251.7 L260.1 252.3 L261.0 251.6 L261.9 252.4 L262.8 251.6 L263.7 251.9 L264.6 252.4 L265.5 251.1 L266.4 251.7 L267.3 252.3 L268.2 251.9 L269.1 252.0 L270.0 251.7 L270.9 252.3 L271.8 251.7 L272.7 251.6 L273.6 252.3 L274.5 251.9 L275.4 252.0 L276.3 251.5 L277.2 251.5 L278.1 252.3 L279.0 252.1 L279.9 251.5 L280.8 252.2 L281.7 252.1 L282.6 251.4 L283.5 251.6 L284.4 251.8 L285.3 251.1 L286.2 251.1 L287.1 251.2 L288.0 251.4 L288.9 251.9 L289.8 251.9 L290.7 251.6 L291.6 250.9 L292.5 251.8 L293.4 251.6 L294.3 251.9 L295.2 251.3 L296.1 251.3 L297.0 251.6 L297.9 252.3 L298.8 251.8 L299.7 251.5 L300.6 251.8 L301.5 251.8 L302.4 251.6 L303.3 251.3 L304.2 252.1 L305.1 251.8 L306.0 251.1 L306.9 252.2 L307.8 251.1 L308.7 251.6 L309.6 251.8 L310.5 251.9 L311.4 251.8 L312.3 252.1 L313.2 251.7 L314.1 251.2 L315.0 251.1 L315.9 252.2 L316.8 252.1 L317.7 252.0 L318.6 252.0 L319.5 252.0 L320.4 251.8 L321.3 250.2 L322.2 251.6 L323.1 252.0 L324.0 252.3 L324.9 252.2 L325.8 252.1 L326.7 251.6 L327.6 251.8 L328.5 251.0 L329.4 252.0 L330.3 251.6 L331.2 252.1 L332.1 251.1 L333.0 252.2 L333.4 252.5 L333.4 253.8Z"/>
<g stroke="#606060" stroke-width="1" fill="none">
<path d="M30.4 277.1 V377.0"/>
<path d="M27.2 376.4 H30.4"/>
<path d="M27.2 359.8 H30.4"/>
<path d="M27.2 343.3 H30.4"/>
<path d="M27.2 326.8 H30.4"/>
<path d="M27.2 310.2 H30.4"/>
<path d="M27.2 293.7 H30.4"/>
<path d="M27.2 277.1 H30.4"/>
<path d="M30.4 377.0 H333.4"/>
<path d="M68.2 377.0 V379.4"/>
<path d="M106.2 377.0 V379.4"/>
<path d="M144.2 377.0 V379.4"/>
<path d="M182.1 377.0 V379.4"/>
<path d="M220.1 377.0 V379.4"/>
<path d="M258.1 377.0 V379.4"/>
<path d="M296.1 377.0 V379.4"/>
</g>
<text transform="translate(25.5 376.1) rotate(-90)" text-anchor="middle" font-size="10" letter-spacing="0.5" fill="#222" stroke="#222" stroke-width="0.18">0</text>
<text transform="translate(25.5 343.0) rotate(-90)" text-anchor="middle" font-size="10" letter-spacing="0.5" fill="#222" stroke="#222" stroke-width="0.18">100</text>
<text transform="translate(25.5 309.9) rotate(-90)" text-anchor="middle" font-size="10" letter-spacing="0.5" fill="#222" stroke="#222" stroke-width="0.18">200</text>
<text transform="translate(25.5 276.8) rotate(-90)" text-anchor="middle" font-size="10" letter-spacing="0.5" fill="#222" stroke="#222" stroke-width="0.18">300</text>
<text transform="translate(12.6 325.1) rotate(-90)" text-anchor="middle" font-size="12" letter-spacing="0.36" fill="#161616">Normalized depth</text>
<g fill="#ff9696">
<rect x="35.15" y="318.1" width="1.30" height="58.3"/>
<rect x="40.60" y="289.7" width="1.20" height="86.7"/>
<rect x="43.75" y="292.0" width="1.30" height="84.4"/>
<rect x="45.00" y="353.2" width="1.00" height="23.2"/>
<rect x="46.55" y="360.8" width="1.10" height="15.6"/>
<rect x="48.30" y="366.5" width="1.00" height="9.9"/>
<rect x="50.00" y="369.1" width="1.00" height="7.3"/>
<rect x="52.75" y="338.3" width="1.10" height="38.1"/>
<rect x="54.00" y="345.3" width="1.00" height="31.1"/>
<rect x="59.75" y="316.2" width="1.10" height="60.2"/>
<rect x="60.95" y="312.8" width="1.10" height="63.6"/>
<rect x="67.10" y="292.7" width="1.20" height="83.7"/>
<rect x="70.65" y="308.2" width="1.10" height="68.2"/>
<rect x="75.70" y="296.0" width="1.20" height="80.4"/>
<rect x="76.80" y="289.7" width="1.20" height="86.7"/>
<rect x="83.70" y="277.1" width="2.20" height="99.3"/>
<rect x="155.10" y="372.4" width="1.00" height="4.0"/>
<rect x="266.50" y="354.9" width="1.00" height="21.5"/>
<rect x="296.25" y="323.1" width="1.30" height="53.3"/>
<rect x="307.70" y="345.3" width="1.00" height="31.1"/>
<rect x="309.85" y="277.1" width="1.30" height="99.3"/>
<rect x="321.30" y="316.2" width="1.00" height="60.2"/>
<rect x="322.95" y="298.6" width="1.30" height="77.8"/>
<rect x="327.10" y="368.8" width="1.00" height="7.6"/>
<rect x="330.20" y="297.6" width="1.20" height="78.8"/>
</g>
<path fill="#ff9696" d="M30.6 376.8 L30.6 375.0 L31.5 374.9 L32.4 373.8 L33.3 374.6 L34.2 374.5 L35.1 375.0 L36.0 373.8 L36.9 373.5 L37.8 374.7 L38.7 374.6 L39.6 375.5 L40.5 374.7 L41.4 373.8 L42.3 375.4 L43.2 373.8 L44.1 374.3 L45.0 375.3 L45.9 374.4 L46.8 374.2 L47.7 375.4 L48.6 374.1 L49.5 375.4 L50.4 374.2 L51.3 375.5 L52.2 374.6 L53.1 373.9 L54.0 375.5 L54.9 374.6 L55.8 373.5 L56.7 373.3 L57.6 373.9 L58.5 375.3 L59.4 374.2 L60.3 374.0 L61.2 375.0 L62.1 374.6 L63.0 373.5 L63.9 374.2 L64.8 374.1 L65.7 375.0 L66.6 375.2 L67.5 374.3 L68.4 375.1 L69.3 374.2 L70.2 373.6 L71.1 374.3 L72.0 374.2 L72.9 374.5 L73.8 374.0 L74.7 374.7 L75.6 375.5 L76.5 375.0 L77.4 374.2 L78.3 374.1 L79.2 374.6 L80.1 375.5 L81.0 374.2 L81.9 373.9 L82.8 374.8 L83.7 374.6 L84.6 373.6 L85.5 374.6 L86.4 374.6 L87.3 375.5 L88.2 375.6 L89.1 374.4 L90.0 374.6 L90.9 374.8 L91.8 375.3 L92.7 375.3 L93.6 375.7 L94.5 375.2 L95.4 375.0 L96.3 375.3 L97.2 375.0 L98.1 375.4 L99.0 375.0 L99.9 375.2 L100.8 375.0 L101.7 375.7 L102.6 375.7 L103.5 375.7 L104.4 375.5 L105.3 374.0 L106.2 375.5 L107.1 375.2 L108.0 375.5 L108.9 375.6 L109.8 375.0 L110.7 375.0 L111.6 374.2 L112.5 375.8 L113.4 374.9 L114.3 375.6 L115.2 375.3 L116.1 375.3 L117.0 375.7 L117.9 375.5 L118.8 375.5 L119.7 375.0 L120.6 374.9 L121.5 375.7 L122.4 374.0 L123.3 375.7 L124.2 375.5 L125.1 375.0 L126.0 375.4 L126.9 375.7 L127.8 375.7 L128.7 375.6 L129.6 375.6 L130.5 375.4 L131.4 375.6 L132.3 375.5 L133.2 374.9 L134.1 375.2 L135.0 375.1 L135.9 375.6 L136.8 375.0 L137.7 375.5 L138.6 375.7 L139.5 375.6 L140.4 375.6 L141.3 374.9 L142.2 375.0 L143.1 374.8 L144.0 375.0 L144.9 375.4 L145.8 375.7 L146.7 375.4 L147.6 375.0 L148.5 375.0 L149.4 375.0 L150.3 375.1 L151.2 375.7 L152.1 375.0 L153.0 375.0 L153.9 374.9 L154.8 373.8 L155.7 375.3 L156.6 375.0 L157.5 375.5 L158.4 374.3 L159.3 375.7 L160.2 375.6 L161.1 375.0 L162.0 375.2 L162.9 374.9 L163.8 374.9 L164.7 375.2 L165.6 375.3 L166.5 375.1 L167.4 375.4 L168.3 375.7 L169.2 375.2 L170.1 375.4 L171.0 375.0 L171.9 375.6 L172.8 375.6 L173.7 375.4 L174.6 374.9 L175.5 375.5 L176.4 375.3 L177.3 375.7 L178.2 375.2 L179.1 374.9 L180.0 374.9 L180.9 374.8 L181.8 374.9 L182.7 374.9 L183.6 375.2 L184.5 375.2 L185.4 375.4 L186.3 375.2 L187.2 375.1 L188.1 375.3 L189.0 374.9 L189.9 375.1 L190.8 375.1 L191.7 373.5 L192.6 375.7 L193.5 375.1 L194.4 375.2 L195.3 375.0 L196.2 375.6 L197.1 375.5 L198.0 375.7 L198.9 375.3 L199.8 375.4 L200.7 374.9 L201.6 375.2 L202.5 375.7 L203.4 375.4 L204.3 375.4 L205.2 375.6 L206.1 375.8 L207.0 375.4 L207.9 375.4 L208.8 375.2 L209.7 374.9 L210.6 374.9 L211.5 375.1 L212.4 375.3 L213.3 375.7 L214.2 375.8 L215.1 375.3 L216.0 375.5 L216.9 375.2 L217.8 375.4 L218.7 375.5 L219.6 375.4 L220.5 375.5 L221.4 375.6 L222.3 374.4 L223.2 375.2 L224.1 375.1 L225.0 375.2 L225.9 374.9 L226.8 375.1 L227.7 375.7 L228.6 375.2 L229.5 375.7 L230.4 375.1 L231.3 375.6 L232.2 375.1 L233.1 374.8 L234.0 375.5 L234.9 374.8 L235.8 375.6 L236.7 374.3 L237.6 375.8 L238.5 375.2 L239.4 375.2 L240.3 374.9 L241.2 375.2 L242.1 375.4 L243.0 375.0 L243.9 375.8 L244.8 375.1 L245.7 375.4 L246.6 374.9 L247.5 375.4 L248.4 375.0 L249.3 374.8 L250.2 375.0 L251.1 375.6 L252.0 375.5 L252.9 374.9 L253.8 375.0 L254.7 375.2 L255.6 375.7 L256.5 375.5 L257.4 375.4 L258.3 375.1 L259.2 375.3 L260.1 375.1 L261.0 374.9 L261.9 375.4 L262.8 375.0 L263.7 375.4 L264.6 375.7 L265.5 373.6 L266.4 375.1 L267.3 375.4 L268.2 375.8 L269.1 374.9 L270.0 375.3 L270.9 375.1 L271.8 375.6 L272.7 375.7 L273.6 375.5 L274.5 375.3 L275.4 374.9 L276.3 375.2 L277.2 375.2 L278.1 375.4 L279.0 375.0 L279.9 375.6 L280.8 374.8 L281.7 375.1 L282.6 375.6 L283.5 375.3 L284.4 375.2 L285.3 374.8 L286.2 374.5 L287.1 374.4 L288.0 375.2 L288.9 375.0 L289.8 373.1 L290.7 373.0 L291.6 373.3 L292.5 373.8 L293.4 375.0 L294.3 374.8 L295.2 374.1 L296.1 374.2 L297.0 372.9 L297.9 375.1 L298.8 373.6 L299.7 375.5 L300.6 374.1 L301.5 374.3 L302.4 372.9 L303.3 374.4 L304.2 374.6 L305.1 373.3 L306.0 373.2 L306.9 374.7 L307.8 373.0 L308.7 373.4 L309.6 374.4 L310.5 374.9 L311.4 375.3 L312.3 374.9 L313.2 374.1 L314.1 375.4 L315.0 375.2 L315.9 373.2 L316.8 374.5 L317.7 373.7 L318.6 373.7 L319.5 373.3 L320.4 375.0 L321.3 375.5 L322.2 374.5 L323.1 374.8 L324.0 374.9 L324.9 373.9 L325.8 373.6 L326.7 373.8 L327.6 375.0 L328.5 374.1 L329.4 373.8 L330.3 375.2 L331.2 373.7 L332.1 374.1 L333.0 374.2 L333.4 375.8 L333.4 376.8Z"/>
<g fill="#ff5c5c">
<rect x="35.15" y="324.2" width="1.30" height="2.6"/>
<rect x="40.60" y="327.2" width="1.20" height="16.1"/>
<rect x="43.75" y="304.7" width="1.30" height="5.5"/>
<rect x="45.00" y="360.2" width="1.00" height="3.0"/>
<rect x="54.00" y="353.2" width="1.00" height="3.4"/>
<rect x="59.75" y="332.8" width="1.10" height="7.1"/>
<rect x="67.10" y="321.2" width="1.20" height="12.2"/>
<rect x="70.65" y="335.1" width="1.10" height="11.5"/>
<rect x="83.70" y="298.0" width="2.20" height="8.9"/>
<rect x="296.25" y="337.2" width="1.30" height="6.1"/>
<rect x="307.70" y="362.4" width="1.00" height="7.3"/>
<rect x="309.85" y="316.5" width="1.30" height="16.9"/>
<rect x="321.30" y="351.4" width="1.00" height="15.1"/>
<rect x="322.95" y="309.0" width="1.30" height="4.5"/>
<rect x="330.20" y="343.5" width="1.20" height="19.7"/>
</g>
<g fill="#f81616">
<rect x="35.18" y="326.8" width="1.23" height="49.6"/>
<rect x="35.03" y="369.0" width="1.53" height="7.4"/>
<rect x="40.63" y="343.3" width="1.14" height="33.1"/>
<rect x="40.48" y="371.4" width="1.44" height="5.0"/>
<rect x="43.78" y="310.2" width="1.23" height="66.2"/>
<rect x="43.63" y="366.5" width="1.53" height="9.9"/>
<rect x="45.02" y="363.2" width="0.95" height="13.2"/>
<rect x="46.58" y="368.1" width="1.04" height="8.3"/>
<rect x="48.32" y="371.4" width="0.95" height="5.0"/>
<rect x="50.02" y="373.8" width="0.95" height="2.6"/>
<rect x="52.78" y="346.6" width="1.04" height="29.8"/>
<rect x="52.63" y="371.9" width="1.34" height="4.5"/>
<rect x="54.02" y="356.5" width="0.95" height="19.9"/>
<rect x="59.78" y="340.0" width="1.04" height="36.4"/>
<rect x="59.63" y="370.9" width="1.34" height="5.5"/>
<rect x="60.98" y="316.8" width="1.04" height="59.6"/>
<rect x="60.83" y="367.5" width="1.34" height="8.9"/>
<rect x="67.13" y="333.4" width="1.14" height="43.0"/>
<rect x="66.98" y="369.9" width="1.44" height="6.5"/>
<rect x="70.68" y="346.6" width="1.04" height="29.8"/>
<rect x="70.53" y="371.9" width="1.34" height="4.5"/>
<rect x="75.73" y="301.9" width="1.14" height="74.5"/>
<rect x="75.58" y="365.2" width="1.44" height="11.2"/>
<rect x="76.83" y="297.0" width="1.14" height="79.4"/>
<rect x="76.68" y="364.5" width="1.44" height="11.9"/>
<rect x="83.75" y="306.9" width="2.09" height="69.5"/>
<rect x="83.60" y="366.0" width="2.39" height="10.4"/>
<rect x="155.12" y="375.4" width="0.95" height="1.0"/>
<rect x="266.52" y="373.1" width="0.95" height="3.3"/>
<rect x="296.28" y="343.3" width="1.23" height="33.1"/>
<rect x="296.13" y="371.4" width="1.53" height="5.0"/>
<rect x="307.72" y="369.8" width="0.95" height="6.6"/>
<rect x="309.88" y="333.4" width="1.23" height="43.0"/>
<rect x="309.73" y="369.9" width="1.53" height="6.5"/>
<rect x="321.32" y="366.5" width="0.95" height="9.9"/>
<rect x="322.98" y="313.5" width="1.23" height="62.9"/>
<rect x="322.83" y="367.0" width="1.53" height="9.4"/>
<rect x="327.12" y="373.1" width="0.95" height="3.3"/>
<rect x="330.23" y="363.2" width="1.14" height="13.2"/>
</g>
<path fill="#f81616" d="M30.6 376.8 L30.6 374.9 L31.5 375.1 L32.4 374.9 L33.3 374.6 L34.2 374.8 L35.1 375.1 L36.0 374.6 L36.9 375.6 L37.8 374.7 L38.7 373.3 L39.6 375.7 L40.5 375.0 L41.4 374.6 L42.3 375.2 L43.2 375.2 L44.1 374.9 L45.0 374.9 L45.9 375.5 L46.8 375.1 L47.7 374.2 L48.6 374.6 L49.5 374.2 L50.4 374.9 L51.3 375.1 L52.2 375.2 L53.1 375.1 L54.0 375.3 L54.9 374.7 L55.8 374.8 L56.7 375.2 L57.6 375.1 L58.5 374.8 L59.4 374.8 L60.3 375.2 L61.2 375.0 L62.1 375.1 L63.0 374.6 L63.9 375.3 L64.8 375.4 L65.7 374.6 L66.6 375.5 L67.5 374.7 L68.4 375.1 L69.3 374.5 L70.2 374.7 L71.1 375.4 L72.0 374.9 L72.9 374.4 L73.8 374.8 L74.7 375.0 L75.6 374.7 L76.5 375.2 L77.4 375.4 L78.3 375.2 L79.2 375.0 L80.1 375.3 L81.0 374.9 L81.9 374.5 L82.8 375.3 L83.7 375.0 L84.6 375.2 L85.5 375.2 L86.4 374.2 L87.3 375.4 L88.2 375.2 L89.1 374.9 L90.0 374.9 L90.9 375.7 L91.8 375.1 L92.7 375.1 L93.6 375.6 L94.5 375.4 L95.4 375.4 L96.3 375.6 L97.2 375.4 L98.1 375.0 L99.0 375.5 L99.9 375.4 L100.8 374.9 L101.7 375.2 L102.6 375.7 L103.5 375.6 L104.4 375.3 L105.3 375.3 L106.2 375.4 L107.1 375.1 L108.0 375.3 L108.9 375.3 L109.8 374.7 L110.7 375.1 L111.6 375.3 L112.5 375.2 L113.4 375.1 L114.3 375.6 L115.2 375.2 L116.1 375.2 L117.0 375.1 L117.9 375.1 L118.8 375.3 L119.7 375.0 L120.6 374.8 L121.5 375.7 L122.4 374.8 L123.3 375.5 L124.2 375.1 L125.1 374.8 L126.0 375.0 L126.9 375.5 L127.8 375.8 L128.7 375.7 L129.6 375.6 L130.5 374.8 L131.4 374.8 L132.3 375.4 L133.2 375.1 L134.1 374.8 L135.0 374.9 L135.9 375.3 L136.8 375.6 L137.7 375.1 L138.6 375.1 L139.5 375.5 L140.4 375.3 L141.3 374.9 L142.2 375.4 L143.1 375.1 L144.0 375.1 L144.9 375.2 L145.8 375.6 L146.7 375.0 L147.6 375.2 L148.5 375.2 L149.4 375.7 L150.3 374.9 L151.2 375.1 L152.1 375.4 L153.0 375.1 L153.9 375.2 L154.8 375.6 L155.7 375.5 L156.6 375.4 L157.5 375.2 L158.4 375.2 L159.3 373.8 L160.2 375.7 L161.1 375.2 L162.0 375.5 L162.9 375.2 L163.8 375.2 L164.7 375.1 L165.6 375.0 L166.5 374.7 L167.4 375.5 L168.3 375.5 L169.2 375.3 L170.1 375.7 L171.0 375.4 L171.9 375.1 L172.8 375.7 L173.7 374.9 L174.6 375.6 L175.5 375.2 L176.4 375.0 L177.3 375.4 L178.2 375.1 L179.1 375.2 L180.0 374.9 L180.9 375.0 L181.8 375.1 L182.7 375.3 L183.6 375.1 L184.5 375.1 L185.4 375.7 L186.3 375.2 L187.2 375.0 L188.1 375.4 L189.0 375.7 L189.9 373.9 L190.8 375.5 L191.7 375.3 L192.6 375.5 L193.5 375.2 L194.4 375.3 L195.3 375.4 L196.2 374.9 L197.1 375.5 L198.0 375.4 L198.9 375.2 L199.8 375.5 L200.7 375.6 L201.6 375.4 L202.5 375.7 L203.4 375.5 L204.3 375.4 L205.2 375.7 L206.1 375.7 L207.0 375.2 L207.9 375.4 L208.8 374.0 L209.7 374.8 L210.6 375.0 L211.5 375.0 L212.4 375.5 L213.3 375.3 L214.2 375.4 L215.1 375.6 L216.0 375.5 L216.9 375.3 L217.8 375.4 L218.7 374.7 L219.6 374.8 L220.5 375.0 L221.4 375.1 L222.3 375.7 L223.2 375.5 L224.1 375.4 L225.0 375.1 L225.9 375.2 L226.8 375.5 L227.7 375.3 L228.6 375.1 L229.5 375.2 L230.4 374.8 L231.3 374.7 L232.2 375.4 L233.1 374.8 L234.0 375.5 L234.9 375.4 L235.8 374.9 L236.7 375.5 L237.6 375.6 L238.5 375.6 L239.4 374.9 L240.3 375.4 L241.2 375.7 L242.1 375.7 L243.0 375.8 L243.9 375.3 L244.8 375.2 L245.7 375.5 L246.6 374.9 L247.5 373.9 L248.4 375.0 L249.3 375.6 L250.2 375.3 L251.1 375.2 L252.0 375.1 L252.9 375.1 L253.8 375.4 L254.7 375.0 L255.6 375.0 L256.5 375.2 L257.4 375.4 L258.3 374.9 L259.2 375.0 L260.1 375.2 L261.0 374.7 L261.9 375.0 L262.8 375.6 L263.7 375.7 L264.6 374.8 L265.5 375.1 L266.4 375.4 L267.3 375.2 L268.2 375.2 L269.1 375.4 L270.0 375.3 L270.9 374.8 L271.8 374.7 L272.7 375.1 L273.6 375.4 L274.5 375.5 L275.4 375.1 L276.3 374.9 L277.2 375.6 L278.1 375.4 L279.0 374.9 L279.9 375.3 L280.8 375.1 L281.7 374.8 L282.6 375.3 L283.5 375.2 L284.4 374.8 L285.3 374.7 L286.2 373.8 L287.1 375.7 L288.0 375.0 L288.9 374.9 L289.8 375.1 L290.7 374.6 L291.6 374.5 L292.5 374.8 L293.4 375.0 L294.3 374.2 L295.2 374.3 L296.1 374.7 L297.0 375.6 L297.9 375.1 L298.8 374.6 L299.7 374.7 L300.6 374.3 L301.5 375.1 L302.4 374.9 L303.3 374.6 L304.2 374.8 L305.1 374.8 L306.0 374.5 L306.9 375.1 L307.8 374.6 L308.7 374.4 L309.6 374.6 L310.5 375.0 L311.4 375.2 L312.3 375.0 L313.2 375.4 L314.1 375.7 L315.0 375.0 L315.9 374.9 L316.8 374.7 L317.7 374.5 L318.6 375.2 L319.5 375.2 L320.4 374.9 L321.3 375.0 L322.2 374.6 L323.1 374.5 L324.0 374.8 L324.9 375.1 L325.8 374.9 L326.7 374.7 L327.6 374.9 L328.5 374.5 L329.4 374.8 L330.3 375.2 L331.2 374.2 L332.1 375.3 L333.0 374.3 L333.4 375.8 L333.4 376.8Z"/>
<rect x="102.2" y="371.1" width="9" height="4.1" fill="#ffd2d2"/>
<path d="M102.2 371.1 H111.2" stroke="#ff6a6a" stroke-width="0.8"/>
<text x="175.9" y="45.6" text-anchor="middle" font-size="12" fill="#3030fa" stroke="#3030fa" stroke-width="0.35">Short homozygous</text>
<text x="175.9" y="62.1" text-anchor="middle" font-size="12" fill="#3030fa" stroke="#3030fa" stroke-width="0.35">(n=23)</text>
<text x="176.3" y="179.7" text-anchor="middle" font-size="12" fill="#a03cf0" stroke="#a03cf0" stroke-width="0.35">Heterozygous</text>
<text x="176.3" y="196.2" text-anchor="middle" font-size="12" fill="#a03cf0" stroke="#a03cf0" stroke-width="0.35">(n=8)</text>
<text x="176.3" y="300.4" text-anchor="middle" font-size="12" fill="#fb2626" stroke="#fb2626" stroke-width="0.35">Tall homozygous</text>
<text x="176.3" y="316.9" text-anchor="middle" font-size="12" fill="#fb2626" stroke="#fb2626" stroke-width="0.35">(n=17)</text>
<text x="28.5" y="391.6" text-anchor="middle" font-size="10.4" fill="#222" stroke="#222" stroke-width="0.18">Chr. 4B</text>
<text x="68.3" y="390.8" text-anchor="middle" font-size="10" fill="#222" stroke="#222" stroke-width="0.18">28.5</text>
<text x="105.7" y="390.8" text-anchor="middle" font-size="10" fill="#222" stroke="#222" stroke-width="0.18">29</text>
<text x="144.5" y="390.8" text-anchor="middle" font-size="10" fill="#222" stroke="#222" stroke-width="0.18">29.5</text>
<text x="182.2" y="390.8" text-anchor="middle" font-size="10" fill="#222" stroke="#222" stroke-width="0.18">30</text>
<text x="219.9" y="390.8" text-anchor="middle" font-size="10" fill="#222" stroke="#222" stroke-width="0.18">30.5</text>
<text x="256.9" y="390.8" text-anchor="middle" font-size="10" fill="#222" stroke="#222" stroke-width="0.18">31</text>
<text x="296.5" y="390.8" text-anchor="middle" font-size="10" fill="#222" stroke="#222" stroke-width="0.18">31.5</text>
<text x="326.0" y="390.8" text-anchor="middle" font-size="10" fill="#222" stroke="#222" stroke-width="0.18">Mb</text>
<path d="M104 397.1 H249" stroke="#5a5a5a" stroke-width="1.3" fill="none"/>
<path d="M100.4 397.1 L106.2 394.2 V400Z" fill="#111"/>
<path d="M252.8 397.1 L247.0 394.2 V400Z" fill="#111"/>
<text x="178.2" y="408.4" text-anchor="middle" font-size="10.5" fill="#222" stroke="#222" stroke-width="0.18">28.95 – 30.86 Mb</text>
<g fill="none" stroke="#484848" stroke-width="1" stroke-dasharray="1.5 1.6">
<path d="M241.4 24.5 V380 Q241.4 382.5 243.9 382.5 H247.2 Q249.7 382.5 249.7 380 V22.6 H243.6"/>
<path d="M241.4 25 C241.4 17 250 15.5 262 12.5 C300 4 350 1 392 1.2 C440 1.6 486 5 514.5 15.2"/>
</g>
<path d="M519.3 18.2 L512.6 16.8 L516.2 12.2Z" fill="#111"/>
<rect x="354.4" y="18.4" width="328.6" height="413.9" fill="none" stroke="#484848" stroke-width="1" stroke-dasharray="1.5 1.6"/>
<g stroke="#606060" stroke-width="1" fill="none">
<path d="M377.4 34.5 V133.8"/>
<path d="M374.2 133.2 H377.4"/>
<path d="M374.2 108.5 H377.4"/>
<path d="M374.2 83.8 H377.4"/>
<path d="M374.2 59.2 H377.4"/>
<path d="M374.2 34.5 H377.4"/>
<path stroke="#7d7d7d" d="M377.4 133.8 H677.5"/>
<path stroke="#7d7d7d" d="M414.5 133.8 V136.2"/>
<path stroke="#7d7d7d" d="M452.1 133.8 V136.2"/>
<path stroke="#7d7d7d" d="M489.7 133.8 V136.2"/>
<path stroke="#7d7d7d" d="M527.3 133.8 V136.2"/>
<path stroke="#7d7d7d" d="M564.9 133.8 V136.2"/>
<path stroke="#7d7d7d" d="M602.6 133.8 V136.2"/>
<path stroke="#7d7d7d" d="M640.2 133.8 V136.2"/>
</g>
<text transform="translate(370.1 133.0) rotate(-90)" text-anchor="middle" font-size="10.6" letter-spacing="0.3" fill="#222" stroke="#222" stroke-width="0.18">0</text>
<text transform="translate(370.1 83.6) rotate(-90)" text-anchor="middle" font-size="10.6" letter-spacing="0.3" fill="#222" stroke="#222" stroke-width="0.18">100</text>
<text transform="translate(370.1 34.3) rotate(-90)" text-anchor="middle" font-size="10.6" letter-spacing="0.3" fill="#222" stroke="#222" stroke-width="0.18">200</text>
<path fill="#9a9aff" d="M431.4 133.2 L431.4 133.2 L431.9 129.4 L432.3 126.8 L432.8 123.7 L433.2 119.7 L433.7 117.8 L434.1 111.6 L434.6 107.3 L435.0 111.3 L435.5 105.8 L435.9 101.9 L436.4 106.6 L436.8 96.8 L437.2 88.7 L437.7 70.1 L438.1 62.5 L438.6 60.2 L439.0 63.8 L439.5 88.8 L439.9 86.3 L440.4 103.3 L440.8 93.9 L441.3 83.9 L441.7 54.7 L442.2 53.6 L442.6 38.8 L443.1 48.8 L443.5 55.9 L444.0 85.1 L444.4 92.9 L444.9 75.7 L445.3 76.0 L445.8 73.9 L446.2 75.4 L446.7 73.0 L447.1 72.0 L447.6 76.8 L448.0 76.7 L448.5 77.8 L448.9 74.4 L449.4 76.1 L449.8 77.8 L450.3 93.0 L450.7 80.2 L451.2 88.5 L451.6 99.1 L452.1 108.7 L452.5 118.9 L453.0 127.0 L453.4 132.0 L453.6 133.2Z"/>
<path fill="#6a6aff" d="M436.02 133.2v-21.5h0.45v21.5zM437.55 133.2v-63.1h0.45v63.1zM438.06 133.2v-65.1h0.45v65.1zM438.57 133.2v-57.8h0.45v57.8zM439.07 133.2v-54.0h0.45v54.0zM440.09 133.2v-36.0h0.45v36.0zM441.11 133.2v-39.3h0.45v39.3zM441.62 133.2v-74.1h0.45v74.1zM442.13 133.2v-75.1h0.45v75.1zM442.64 133.2v-83.3h0.45v83.3zM443.65 133.2v-65.6h0.45v65.6zM444.16 133.2v-47.0h0.45v47.0zM445.18 133.2v-43.6h0.45v43.6zM445.69 133.2v-54.7h0.45v54.7zM446.71 133.2v-55.9h0.45v55.9zM447.22 133.2v-51.1h0.45v51.1zM447.72 133.2v-45.5h0.45v45.5zM448.23 133.2v-52.0h0.45v52.0zM448.74 133.2v-48.9h0.45v48.9zM451.80 133.2v-21.5h0.45v21.5zM452.30 133.2v-14.9h0.45v14.9zM452.81 133.2v-4.9h0.45v4.9z"/>
<path fill="#1414ff" d="M431.4 133.2 L431.4 133.2 L431.9 131.3 L432.3 130.4 L432.8 128.4 L433.2 125.1 L433.7 124.5 L434.1 121.2 L434.6 120.1 L435.0 120.2 L435.5 117.0 L435.9 117.5 L436.4 115.4 L436.8 111.0 L437.2 101.9 L437.7 93.5 L438.1 80.9 L438.6 79.5 L439.0 86.3 L439.5 91.5 L439.9 99.8 L440.4 109.0 L440.8 114.0 L441.3 116.7 L441.7 104.7 L442.2 92.8 L442.6 79.9 L443.1 86.7 L443.5 82.9 L444.0 89.6 L444.4 92.0 L444.9 94.4 L445.3 90.5 L445.8 88.1 L446.2 89.9 L446.7 88.7 L447.1 82.8 L447.6 87.8 L448.0 94.7 L448.5 92.3 L448.9 90.8 L449.4 88.5 L449.8 86.8 L450.3 88.4 L450.7 93.3 L451.2 102.0 L451.6 109.2 L452.1 118.6 L452.5 123.2 L453.0 129.3 L453.4 132.3 L453.6 133.2Z"/>
<path fill="#1414ff" d="M431.42 133.2v-1.1h0.50v1.1zM432.43 133.2v-5.6h0.50v5.6zM433.45 133.2v-11.0h0.50v11.0zM433.96 133.2v-16.2h0.50v16.2zM435.49 133.2v-21.6h0.50v21.6zM436.51 133.2v-23.3h0.50v23.3zM439.56 133.2v-42.1h0.50v42.1zM440.07 133.2v-30.1h0.50v30.1zM440.58 133.2v-20.8h0.50v20.8zM441.59 133.2v-45.6h0.50v45.6zM442.10 133.2v-66.1h0.50v66.1zM442.61 133.2v-59.6h0.50v59.6zM444.65 133.2v-43.8h0.50v43.8zM445.16 133.2v-48.9h0.50v48.9zM445.66 133.2v-45.5h0.50v45.5zM448.21 133.2v-42.4h0.50v42.4zM449.74 133.2v-56.0h0.50v56.0zM450.75 133.2v-38.6h0.50v38.6zM451.26 133.2v-29.4h0.50v29.4zM452.28 133.2v-9.8h0.50v9.8z"/>
<path fill="#9a9aff" d="M610.2 133.2 L610.2 133.2 L610.6 131.8 L611.1 129.3 L611.5 127.5 L612.0 126.9 L612.4 121.5 L612.9 121.7 L613.3 115.0 L613.8 115.3 L614.2 108.8 L614.7 118.6 L615.1 120.4 L615.6 121.0 L616.0 119.2 L616.5 116.8 L616.9 114.5 L617.4 117.4 L617.8 117.3 L618.3 121.4 L618.7 118.7 L619.2 115.2 L619.6 108.3 L620.1 109.2 L620.5 105.0 L621.0 98.8 L621.4 98.2 L621.9 92.1 L622.3 96.7 L622.8 97.7 L623.2 97.0 L623.7 111.4 L624.1 107.0 L624.5 118.2 L625.0 112.2 L625.4 111.5 L625.9 113.7 L626.3 116.3 L626.8 120.4 L627.2 123.7 L627.7 126.0 L628.1 128.1 L628.6 131.2 L629.0 133.2 L629.0 133.2Z"/>
<path fill="#6a6aff" d="M610.72 133.2v-2.9h0.45v2.9zM612.25 133.2v-10.1h0.45v10.1zM613.26 133.2v-20.3h0.45v20.3zM614.79 133.2v-14.6h0.45v14.6zM617.84 133.2v-11.7h0.45v11.7zM618.86 133.2v-14.9h0.45v14.9zM619.37 133.2v-23.1h0.45v23.1zM619.88 133.2v-19.6h0.45v19.6zM620.39 133.2v-23.4h0.45v23.4zM620.90 133.2v-33.3h0.45v33.3zM621.91 133.2v-31.1h0.45v31.1zM623.44 133.2v-25.7h0.45v25.7zM624.46 133.2v-18.5h0.45v18.5zM624.97 133.2v-17.6h0.45v17.6zM625.48 133.2v-16.1h0.45v16.1zM625.98 133.2v-14.0h0.45v14.0zM627.00 133.2v-7.7h0.45v7.7z"/>
<path fill="#1414ff" d="M610.2 133.2 L610.2 133.2 L610.6 132.0 L611.1 131.0 L611.5 129.9 L612.0 128.0 L612.4 125.8 L612.9 123.4 L613.3 119.6 L613.8 118.3 L614.2 117.1 L614.7 119.6 L615.1 124.2 L615.6 125.3 L616.0 124.1 L616.5 121.7 L616.9 121.3 L617.4 120.0 L617.8 123.1 L618.3 123.9 L618.7 121.2 L619.2 119.3 L619.6 115.6 L620.1 114.9 L620.5 113.3 L621.0 114.4 L621.4 110.0 L621.9 109.5 L622.3 99.8 L622.8 105.3 L623.2 106.4 L623.7 111.9 L624.1 114.2 L624.5 116.8 L625.0 118.7 L625.4 118.7 L625.9 121.5 L626.3 125.0 L626.8 126.2 L627.2 127.7 L627.7 129.3 L628.1 130.6 L628.6 132.1 L629.0 133.2 L629.0 133.2Z"/>
<path fill="#1414ff" d="M610.19 133.2v-0.8h0.50v0.8zM610.69 133.2v-2.6h0.50v2.6zM611.20 133.2v-4.9h0.50v4.9zM613.24 133.2v-17.7h0.50v17.7zM614.26 133.2v-18.8h0.50v18.8zM614.76 133.2v-12.5h0.50v12.5zM615.27 133.2v-9.9h0.50v9.9zM615.78 133.2v-9.6h0.50v9.6zM616.29 133.2v-11.1h0.50v11.1zM617.31 133.2v-12.6h0.50v12.6zM618.84 133.2v-14.0h0.50v14.0zM620.36 133.2v-23.6h0.50v23.6zM620.87 133.2v-30.3h0.50v30.3zM621.38 133.2v-28.9h0.50v28.9zM621.89 133.2v-33.2h0.50v33.2zM622.40 133.2v-32.9h0.50v32.9zM623.92 133.2v-22.8h0.50v22.8zM624.43 133.2v-19.1h0.50v19.1zM625.45 133.2v-15.2h0.50v15.2zM626.47 133.2v-11.6h0.50v11.6zM627.99 133.2v-2.3h0.50v2.3z"/>
<rect x="440.5" y="80" width="0.8" height="34" fill="#8a8aff"/>
<rect x="434.3" y="104" width="0.7" height="14" fill="#8a8aff"/>
<path d="M377.9 133.4 H677.5" stroke="#4a4aee" stroke-width="1.1"/>
<path fill="#3030fa" d="M513.4 133.2 v-1.6 h1.8 v1.6zM517.3 133.2 v-1.6 h1.4 v1.6zM434.7 133.2 v-1.6 h1.5 v1.6zM613.6 133.2 v-1.2 h0.8 v1.2zM618.5 133.2 v-1.9 h1.9 v1.9zM664.1 133.2 v-2.4 h0.9 v2.4zM384.8 133.2 v-1.6 h0.8 v1.6zM436.3 133.2 v-1.2 h0.7 v1.2zM516.8 133.2 v-1.5 h1.7 v1.5zM533.1 133.2 v-1.8 h1.3 v1.8zM575.2 133.2 v-1.5 h1.0 v1.5zM673.8 133.2 v-3.1 h1.5 v3.1zM473.1 133.2 v-1.1 h1.0 v1.1zM401.1 133.2 v-1.9 h1.2 v1.9zM629.4 133.2 v-2.3 h1.7 v2.3zM380.6 133.2 v-1.1 h1.8 v1.1zM518.6 133.2 v-2.3 h1.2 v2.3zM401.9 133.2 v-1.7 h1.6 v1.7zM459.7 133.2 v-0.9 h1.1 v0.9zM663.9 133.2 v-2.1 h1.0 v2.1zM410.1 133.2 v-0.9 h1.7 v0.9zM432.7 133.2 v-1.6 h1.2 v1.6zM436.5 133.2 v-1.9 h0.9 v1.9zM569.7 133.2 v-1.0 h1.2 v1.0zM443.0 133.2 v-1.2 h1.9 v1.2zM616.7 133.2 v-2.1 h1.0 v2.1zM496.4 133.2 v-2.1 h1.5 v2.1zM409.9 133.2 v-2.3 h1.0 v2.3zM456.4 133.2 v-2.0 h1.1 v2.0zM467.5 133.2 v-0.9 h0.8 v0.9zM551.8 133.2 v-1.2 h1.4 v1.2zM489.7 133.2 v-1.5 h1.9 v1.5zM522.7 133.2 v-1.7 h1.7 v1.7zM434.2 133.2 v-1.0 h1.8 v1.0zM620.9 133.2 v-1.4 h1.6 v1.4zM657.0 133.2 v-2.0 h1.8 v2.0zM557.9 133.2 v-1.4 h0.8 v1.4zM391.8 133.2 v-2.2 h1.0 v2.2zM587.6 133.2 v-1.2 h1.7 v1.2zM555.8 133.2 v-1.2 h0.9 v1.2zM592.3 133.2 v-0.9 h1.0 v0.9zM544.9 133.2 v-2.1 h1.4 v2.1zM462.8 133.2 v-2.2 h0.9 v2.2zM385.3 133.2 v-1.2 h1.2 v1.2zM398.2 133.2 v-1.1 h1.1 v1.1zM548.7 133.2 v-1.0 h1.1 v1.0zM676.6 133.2 v-4.6 h1 v4.6zM664.5 133.2 v-5.2 h0.9 v5.2z"/>
<g stroke="#606060" stroke-width="1" fill="none">
<path d="M377.4 156.9 V257.1"/>
<path d="M374.2 256.5 H377.4"/>
<path d="M374.2 231.6 H377.4"/>
<path d="M374.2 206.7 H377.4"/>
<path d="M374.2 181.8 H377.4"/>
<path d="M374.2 156.9 H377.4"/>
<path stroke="#7d7d7d" d="M377.4 257.1 H677.5"/>
<path stroke="#7d7d7d" d="M414.5 257.1 V259.5"/>
<path stroke="#7d7d7d" d="M452.1 257.1 V259.5"/>
<path stroke="#7d7d7d" d="M489.7 257.1 V259.5"/>
<path stroke="#7d7d7d" d="M527.3 257.1 V259.5"/>
<path stroke="#7d7d7d" d="M564.9 257.1 V259.5"/>
<path stroke="#7d7d7d" d="M602.6 257.1 V259.5"/>
<path stroke="#7d7d7d" d="M640.2 257.1 V259.5"/>
</g>
<text transform="translate(370.1 256.3) rotate(-90)" text-anchor="middle" font-size="10.6" letter-spacing="0.3" fill="#222" stroke="#222" stroke-width="0.18">0</text>
<text transform="translate(370.1 206.5) rotate(-90)" text-anchor="middle" font-size="10.6" letter-spacing="0.3" fill="#222" stroke="#222" stroke-width="0.18">100</text>
<text transform="translate(370.1 156.7) rotate(-90)" text-anchor="middle" font-size="10.6" letter-spacing="0.3" fill="#222" stroke="#222" stroke-width="0.18">200</text>
<path fill="#d8a6f8" d="M430.7 256.5 L430.7 256.5 L431.2 255.4 L431.6 254.5 L432.1 253.4 L432.5 251.9 L433.0 250.8 L433.4 249.3 L433.9 246.7 L434.3 245.9 L434.8 243.7 L435.2 244.0 L435.7 242.3 L436.1 237.6 L436.6 234.5 L437.0 225.0 L437.5 219.6 L437.9 214.8 L438.4 213.5 L438.8 228.9 L439.3 229.6 L439.7 241.6 L440.2 239.3 L440.6 241.4 L441.1 235.8 L441.5 230.0 L441.9 220.2 L442.4 216.8 L442.8 219.4 L443.3 231.2 L443.7 233.3 L444.2 225.0 L444.6 225.3 L445.1 224.2 L445.5 224.5 L446.0 223.7 L446.4 221.4 L446.9 219.8 L447.3 217.8 L447.8 219.4 L448.2 221.3 L448.7 224.6 L449.1 223.3 L449.6 229.0 L450.0 219.5 L450.5 221.0 L450.9 232.5 L451.4 240.8 L451.8 247.0 L452.3 251.9 L452.7 254.7 L453.1 256.5Z"/>
<path fill="#a538f0" d="M432.15 256.5v-3.8h0.50v3.8zM432.63 256.5v-5.0h0.50v5.0zM433.11 256.5v-5.4h0.50v5.4zM433.59 256.5v-7.6h0.50v7.6zM434.07 256.5v-9.3h0.50v9.3zM434.54 256.5v-12.3h0.50v12.3zM435.02 256.5v-10.8h0.50v10.8zM435.50 256.5v-12.1h0.50v12.1zM435.98 256.5v-18.4h0.50v18.4zM436.46 256.5v-24.0h0.50v24.0zM436.94 256.5v-36.7h0.50v36.7zM437.42 256.5v-38.8h0.50v38.8zM437.90 256.5v-39.3h0.50v39.3zM438.38 256.5v-30.9h0.50v30.9zM438.86 256.5v-24.9h0.50v24.9zM439.33 256.5v-18.7h0.50v18.7zM439.81 256.5v-15.3h0.50v15.3zM440.29 256.5v-10.7h0.50v10.7zM440.77 256.5v-18.8h0.50v18.8zM441.25 256.5v-19.6h0.50v19.6zM441.73 256.5v-23.9h0.50v23.9zM442.21 256.5v-35.6h0.50v35.6zM442.69 256.5v-28.4h0.50v28.4zM443.17 256.5v-25.1h0.50v25.1zM443.64 256.5v-29.1h0.50v29.1zM444.12 256.5v-23.3h0.50v23.3zM444.60 256.5v-30.6h0.50v30.6zM445.08 256.5v-32.0h0.50v32.0zM445.56 256.5v-29.1h0.50v29.1zM446.52 256.5v-39.0h0.50v39.0zM447.00 256.5v-38.7h0.50v38.7zM447.48 256.5v-29.3h0.50v29.3zM447.95 256.5v-32.9h0.50v32.9zM448.43 256.5v-33.8h0.50v33.8zM448.91 256.5v-35.7h0.50v35.7zM449.39 256.5v-38.2h0.50v38.2zM449.87 256.5v-29.4h0.50v29.4zM450.83 256.5v-15.7h0.50v15.7zM451.31 256.5v-11.7h0.50v11.7zM451.79 256.5v-7.3h0.50v7.3zM452.74 256.5v-0.6h0.50v0.6z"/>
<path fill="#c48af5" d="M430.7 256.5 L430.7 256.5 L431.2 256.1 L431.6 255.8 L432.1 255.6 L432.5 255.0 L433.0 254.6 L433.4 254.1 L433.9 252.6 L434.3 252.3 L434.8 253.0 L435.2 252.2 L435.7 251.8 L436.1 249.4 L436.6 249.7 L437.0 247.1 L437.5 246.2 L437.9 237.7 L438.4 242.0 L438.8 245.2 L439.3 249.3 L439.7 251.6 L440.2 253.5 L440.6 253.7 L441.1 251.7 L441.5 251.9 L441.9 246.9 L442.4 243.9 L442.8 247.7 L443.3 246.0 L443.7 247.1 L444.2 246.8 L444.6 248.5 L445.1 244.8 L445.5 245.8 L446.0 245.0 L446.4 242.3 L446.9 242.3 L447.3 244.1 L447.8 242.7 L448.2 248.0 L448.7 244.1 L449.1 243.1 L449.6 241.2 L450.0 239.2 L450.5 244.7 L450.9 246.9 L451.4 251.9 L451.8 253.4 L452.3 255.1 L452.7 255.8 L453.1 256.5Z"/>
<path fill="#a538f0" d="M431.22 256.5v-0.7h0.45v0.7zM433.61 256.5v-4.6h0.45v4.6zM436.49 256.5v-16.4h0.45v16.4zM437.92 256.5v-26.4h0.45v26.4zM441.27 256.5v-7.0h0.45v7.0zM442.71 256.5v-21.6h0.45v21.6zM443.67 256.5v-16.9h0.45v16.9zM445.58 256.5v-19.9h0.45v19.9zM448.46 256.5v-21.8h0.45v21.8zM449.42 256.5v-23.8h0.45v23.8zM450.37 256.5v-21.4h0.45v21.4zM451.81 256.5v-3.3h0.45v3.3z"/>
<path fill="#d8a6f8" d="M610.2 256.5 L610.2 256.5 L610.6 255.7 L611.1 254.5 L611.5 253.6 L612.0 253.4 L612.4 251.5 L612.9 251.8 L613.3 249.2 L613.8 248.8 L614.2 244.4 L614.7 248.7 L615.1 250.7 L615.6 251.2 L616.0 251.4 L616.5 250.8 L616.9 251.1 L617.4 251.8 L617.8 251.9 L618.3 252.9 L618.7 251.7 L619.2 251.2 L619.6 250.0 L620.1 249.9 L620.5 247.5 L621.0 242.3 L621.4 240.0 L621.9 238.1 L622.3 239.2 L622.8 239.1 L623.2 238.2 L623.7 243.3 L624.1 239.9 L624.5 246.6 L625.0 248.1 L625.4 251.0 L625.9 251.6 L626.3 252.6 L626.8 254.0 L627.2 255.1 L627.7 256.1 L627.8 256.5Z"/>
<path fill="#a538f0" d="M610.2 256.5 L610.2 256.5 L610.6 255.8 L611.1 255.1 L611.5 254.4 L612.0 253.6 L612.4 252.9 L612.9 252.0 L613.3 251.5 L613.8 248.0 L614.2 246.7 L614.7 250.2 L615.1 252.8 L615.6 252.5 L616.0 252.8 L616.5 252.3 L616.9 252.5 L617.4 252.7 L617.8 253.0 L618.3 253.0 L618.7 252.6 L619.2 252.3 L619.6 252.6 L620.1 250.7 L620.5 248.8 L621.0 244.8 L621.4 245.9 L621.9 241.0 L622.3 240.6 L622.8 242.0 L623.2 241.3 L623.7 242.9 L624.1 242.8 L624.5 246.8 L625.0 252.0 L625.4 253.4 L625.9 253.4 L626.3 254.2 L626.8 254.9 L627.2 255.6 L627.7 256.3 L627.8 256.5Z"/>
<path fill="#a538f0" d="M611.13 256.5v-2.7h0.50v2.7zM611.61 256.5v-3.5h0.50v3.5zM612.09 256.5v-4.5h0.50v4.5zM612.57 256.5v-5.5h0.50v5.5zM614.00 256.5v-11.3h0.50v11.3zM614.96 256.5v-5.2h0.50v5.2zM616.40 256.5v-4.6h0.50v4.6zM617.35 256.5v-4.6h0.50v4.6zM618.31 256.5v-4.2h0.50v4.2zM618.79 256.5v-4.9h0.50v4.9zM619.27 256.5v-5.9h0.50v5.9zM620.23 256.5v-8.9h0.50v8.9zM620.71 256.5v-11.2h0.50v11.2zM623.58 256.5v-15.8h0.50v15.8zM624.54 256.5v-8.8h0.50v8.8zM625.02 256.5v-5.4h0.50v5.4zM625.50 256.5v-4.7h0.50v4.7zM626.45 256.5v-2.6h0.50v2.6z"/>
<path fill="#c48af5" d="M624 256.5 l1.5 -4 l1.5 1.5 l1 2.5z"/>
<path d="M407.5 256.1 H672" stroke="#c07af4" stroke-width="2"/>
<path fill="#b358f0" d="M407.8 256.0 v-2.6 h1.5 v2.6zM410.8 256.0 v-2.6 h1.5 v2.6zM473.6 256.0 v-2.6 h1.5 v2.6zM521.0 256.0 v-2.6 h1.5 v2.6zM534.4 256.0 v-2.6 h1.5 v2.6zM557.2 256.0 v-2.6 h1.5 v2.6zM579.0 256.0 v-2.6 h1.5 v2.6zM590.7 256.0 v-2.6 h1.5 v2.6zM606.3 256.0 v-2.6 h1.5 v2.6zM643.7 256.0 v-2.6 h1.5 v2.6zM658.1 256.0 v-2.6 h1.5 v2.6z"/>
<g stroke="#606060" stroke-width="1" fill="none">
<path d="M377.4 279.8 V378.9"/>
<path d="M374.2 378.3 H377.4"/>
<path d="M374.2 353.7 H377.4"/>
<path d="M374.2 329.1 H377.4"/>
<path d="M374.2 304.4 H377.4"/>
<path d="M374.2 279.8 H377.4"/>
<path stroke="#7d7d7d" d="M377.4 378.9 H677.5"/>
<path stroke="#7d7d7d" d="M414.5 378.9 V381.3"/>
<path stroke="#7d7d7d" d="M452.1 378.9 V381.3"/>
<path stroke="#7d7d7d" d="M489.7 378.9 V381.3"/>
<path stroke="#7d7d7d" d="M527.3 378.9 V381.3"/>
<path stroke="#7d7d7d" d="M564.9 378.9 V381.3"/>
<path stroke="#7d7d7d" d="M602.6 378.9 V381.3"/>
<path stroke="#7d7d7d" d="M640.2 378.9 V381.3"/>
</g>
<text transform="translate(370.1 378.1) rotate(-90)" text-anchor="middle" font-size="10.6" letter-spacing="0.3" fill="#222" stroke="#222" stroke-width="0.18">0</text>
<text transform="translate(370.1 328.9) rotate(-90)" text-anchor="middle" font-size="10.6" letter-spacing="0.3" fill="#222" stroke="#222" stroke-width="0.18">100</text>
<text transform="translate(370.1 279.6) rotate(-90)" text-anchor="middle" font-size="10.6" letter-spacing="0.3" fill="#222" stroke="#222" stroke-width="0.18">200</text>
<path d="M437.5 378.0 H626.6" stroke="#f55" stroke-width="1.2"/>
<path fill="#f33" d="M437.5 378.3 v-2 l1.5 1.2 h4.5 l1.5 -0.8 l1 1.6z"/>
<text x="377.7" y="392.9" text-anchor="middle" font-size="10.4" fill="#222" stroke="#222" stroke-width="0.18">Chr. 4B</text>
<text x="446.4" y="392.6" text-anchor="middle" font-size="10.6" fill="#222" stroke="#222" stroke-width="0.18">30840</text>
<text x="527.2" y="392.6" text-anchor="middle" font-size="10.6" fill="#222" stroke="#222" stroke-width="0.18">30850</text>
<text x="602.1" y="392.6" text-anchor="middle" font-size="10.6" fill="#222" stroke="#222" stroke-width="0.18">30860</text>
<text x="670.7" y="390.9" text-anchor="middle" font-size="10.2" fill="#222" stroke="#222" stroke-width="0.18">Kb</text>
<path fill="#111" d="M431.1 398.5 h5.8 v5 h-5.8zM437.8 398.5 h1.4 v5 h-1.4zM440.0 398.5 h1.6 v5 h-1.6zM442.3 398.5 h1.4 v5 h-1.4zM444.4 398.5 h1.4 v5 h-1.4zM446.5 398.5 h1.4 v5 h-1.4zM448.6 398.5 h1.4 v5 h-1.4zM450.9 398.5 h4.6 v5 h-4.6z"/>
<path d="M431.1 401.0 H459.6" stroke="#111" stroke-width="1.4"/>
<path fill="#111" d="M463.9 401.0 l-6 -3.1 v6.2z"/>
<rect x="611.4" y="397.9" width="14.2" height="5.2" fill="#111"/>
<path d="M611.4 400.5 H631" stroke="#111" stroke-width="1.4"/>
<path fill="#111" d="M635.6 400.5 l-6.2 -3.1 v6.2z"/>
<text x="439.5" y="413.7" text-anchor="middle" font-size="9.95" fill="#222" stroke="#222" stroke-width="0.18">TraesCS4B01G043000</text>
<text x="623.5" y="413.7" text-anchor="middle" font-size="9.95" fill="#222" stroke="#222" stroke-width="0.18">TraesCS4B01G043100</text>
<text x="624.3" y="425.1" text-anchor="middle" font-size="9.6" fill="#222">(<tspan font-style="italic">Rht-B1</tspan>)</text>
</svg></body></html>
